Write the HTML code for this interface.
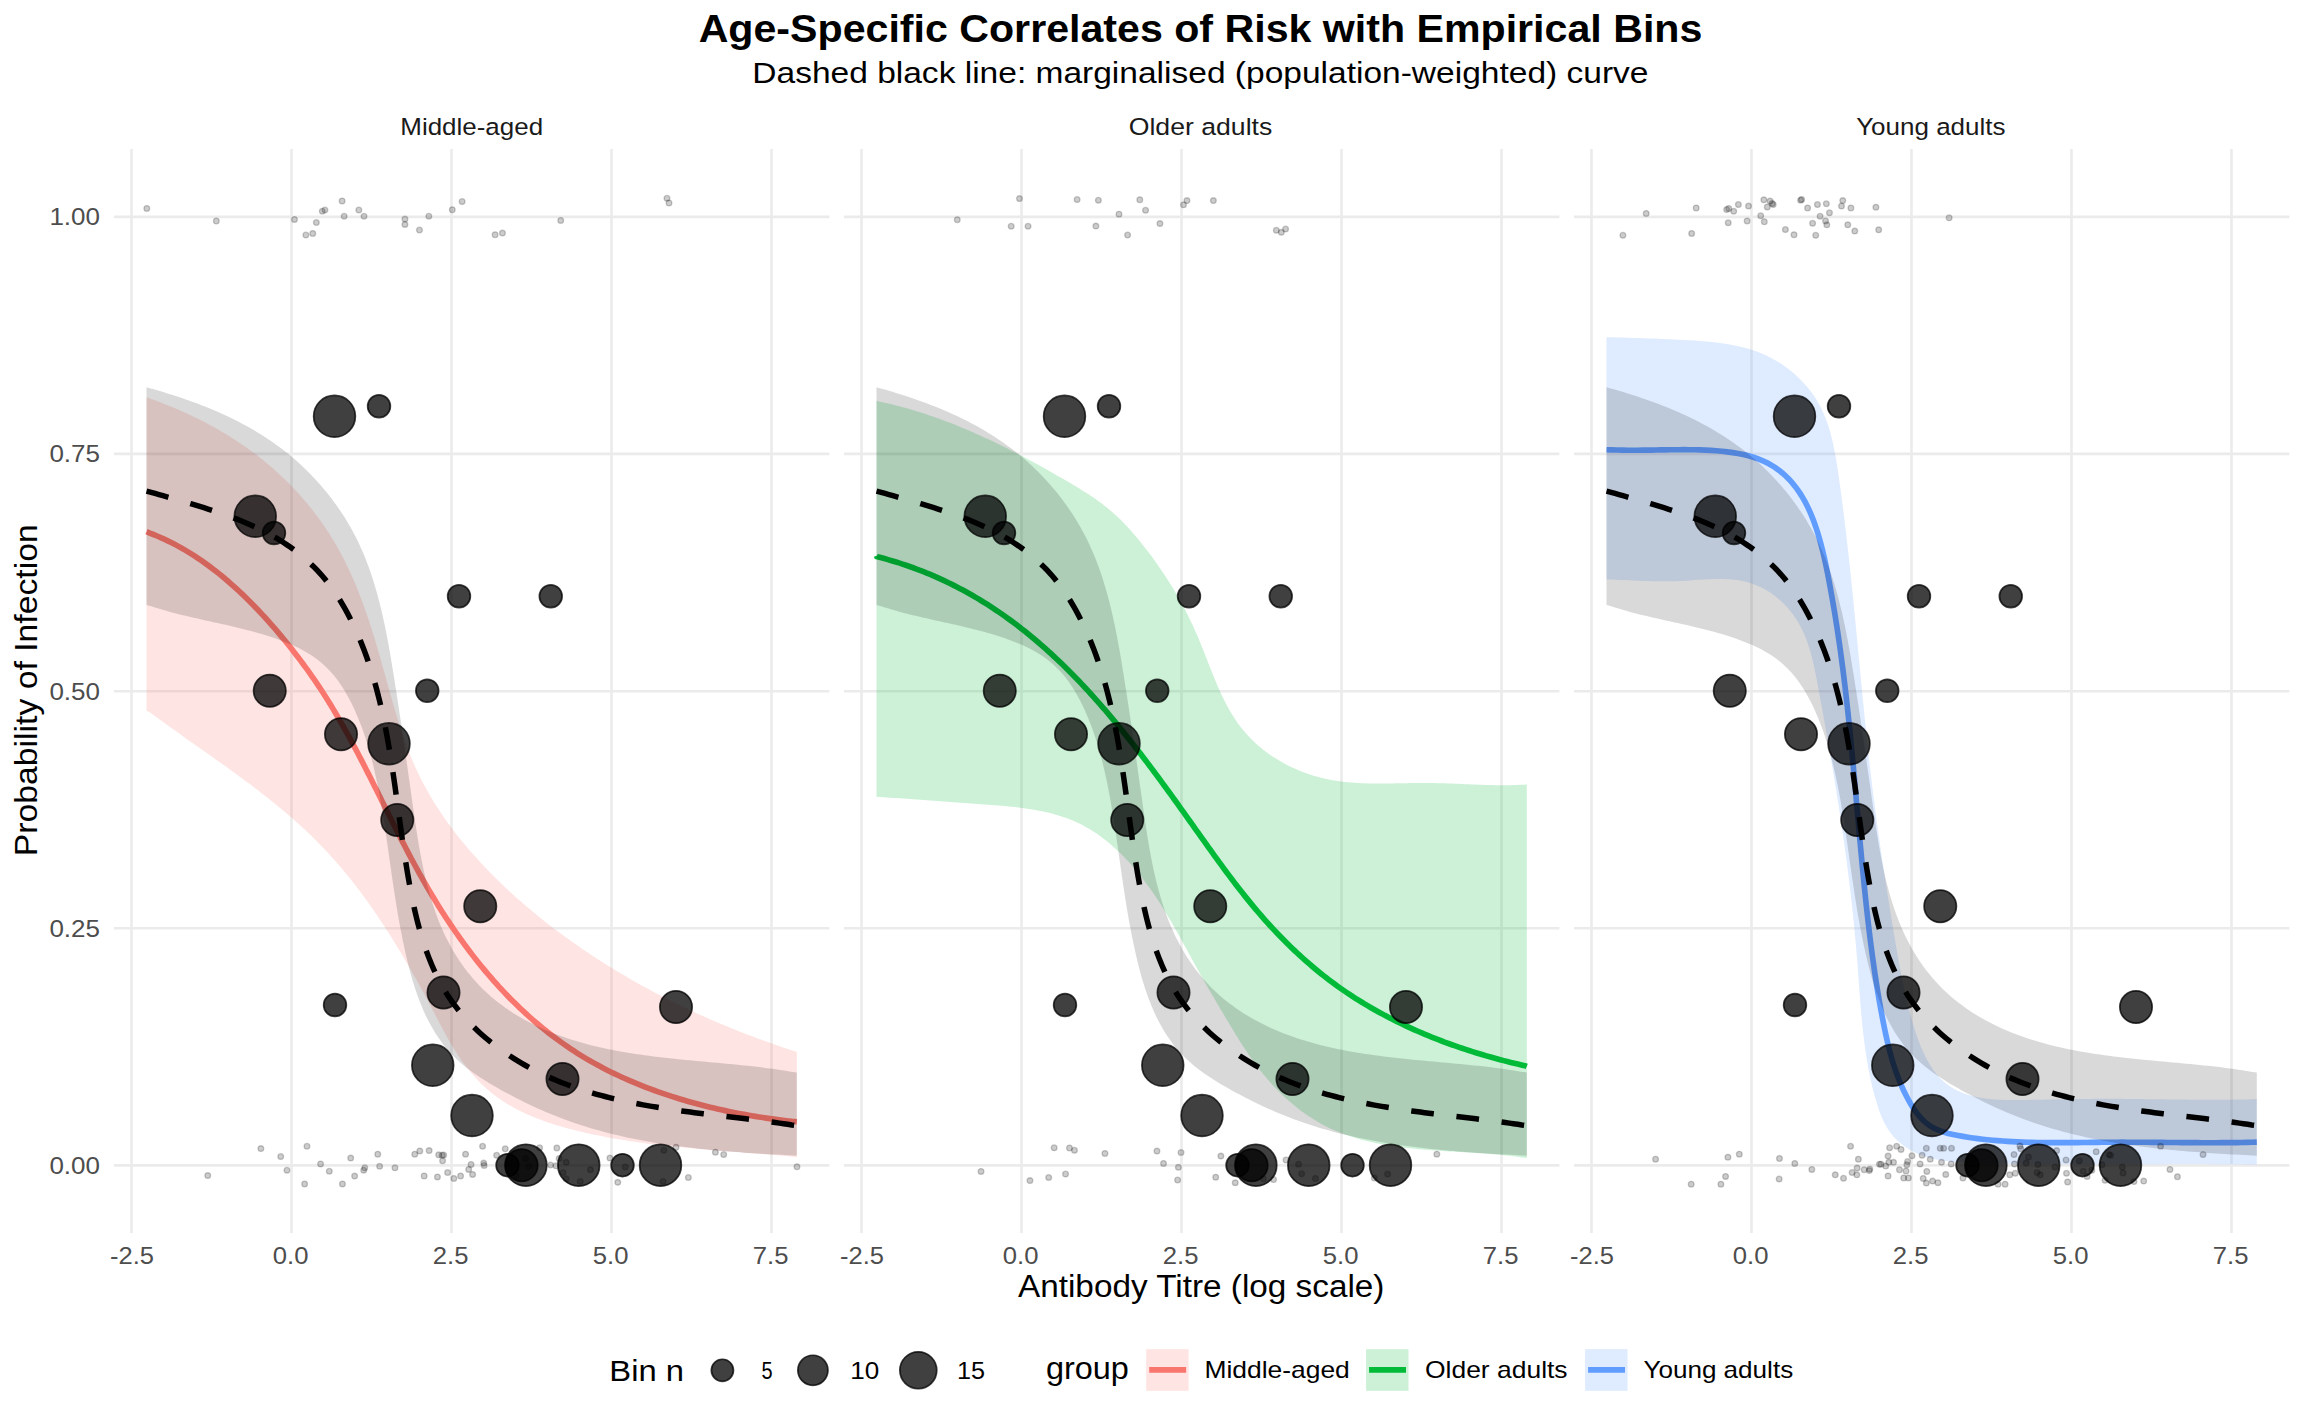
<!DOCTYPE html><html><head><meta charset="utf-8"><style>html,body{margin:0;padding:0;background:#fff;}svg{display:block;font-family:"Liberation Sans",sans-serif;}</style></head><body>
<svg width="2304" height="1423" viewBox="0 0 2304 1423">
<rect width="2304" height="1423" fill="#fff"/>
<text x="1200.5" y="41.5" font-size="38.6" fill="#000" text-anchor="middle" font-weight="bold" textLength="1003.7" lengthAdjust="spacingAndGlyphs">Age-Specific Correlates of Risk with Empirical Bins</text>
<text x="1200.4" y="82.6" font-size="30.2" fill="#000" text-anchor="middle" font-weight="normal" textLength="896.2" lengthAdjust="spacingAndGlyphs">Dashed black line: marginalised (population-weighted) curve</text>
<text x="471.7" y="134.8" font-size="24.5" fill="#1A1A1A" text-anchor="middle" font-weight="normal" textLength="142.8" lengthAdjust="spacingAndGlyphs">Middle-aged</text>
<path d="M131.5,149 V1233 M291.5,149 V1233 M451.5,149 V1233 M611.5,149 V1233 M771.5,149 V1233 M114,216.9 H829.4 M114,453.9 H829.4 M114,691.2 H829.4 M114,928.3 H829.4 M114,1165.4 H829.4" stroke="#EBEBEB" stroke-width="2.6" fill="none"/>
<path d="M146.5,397.14 L149.95,398.46 L153.74,399.83 L157.52,401.23 L161.3,402.66 L165.06,404.13 L168.82,405.64 L172.57,407.18 L176.31,408.76 L180.04,410.38 L183.76,412.03 L187.46,413.72 L191.15,415.45 L194.82,417.22 L198.48,419.02 L202.12,420.86 L205.74,422.74 L209.35,424.66 L212.93,426.61 L216.5,428.6 L220.04,430.64 L223.56,432.71 L227.05,434.81 L230.53,436.96 L233.97,439.15 L237.39,441.38 L240.78,443.64 L244.15,445.95 L247.48,448.29 L250.79,450.68 L254.06,453.1 L257.3,455.57 L260.51,458.07 L263.69,460.62 L266.83,463.2 L269.94,465.83 L273.01,468.49 L276.05,471.19 L279.05,473.93 L282.01,476.7 L284.94,479.51 L287.83,482.36 L290.68,485.25 L293.49,488.17 L296.27,491.12 L299,494.11 L301.69,497.14 L304.35,500.2 L306.96,503.29 L309.53,506.42 L312.05,509.57 L314.54,512.76 L316.98,515.99 L319.37,519.24 L321.72,522.52 L324.03,525.84 L326.29,529.18 L328.51,532.56 L330.68,535.96 L332.8,539.39 L334.87,542.85 L336.9,546.34 L338.87,549.86 L340.8,553.4 L342.69,556.97 L344.53,560.56 L346.33,564.18 L348.08,567.82 L349.8,571.48 L351.47,575.17 L353.11,578.87 L354.71,582.6 L356.27,586.34 L357.8,590.1 L359.3,593.88 L360.76,597.68 L362.2,601.49 L363.6,605.32 L364.98,609.16 L366.33,613.02 L367.65,616.89 L368.95,620.77 L370.22,624.66 L371.48,628.56 L372.71,632.47 L373.92,636.39 L375.12,640.31 L376.3,644.25 L377.46,648.19 L378.61,652.13 L379.74,656.08 L380.87,660.03 L381.98,663.98 L383.08,667.94 L384.18,671.9 L385.28,675.86 L386.37,679.81 L387.46,683.76 L388.56,687.72 L389.66,691.66 L390.77,695.6 L391.88,699.54 L393.01,703.47 L394.15,707.39 L395.3,711.3 L396.48,715.21 L397.67,719.1 L398.88,722.98 L400.12,726.85 L401.38,730.71 L402.67,734.55 L403.99,738.38 L405.34,742.19 L406.73,745.98 L408.15,749.75 L409.61,753.51 L411.12,757.25 L412.66,760.96 L414.25,764.66 L415.89,768.33 L417.57,771.97 L419.31,775.6 L421.09,779.19 L422.93,782.77 L424.82,786.32 L426.75,789.84 L428.73,793.34 L430.75,796.82 L432.82,800.27 L434.94,803.7 L437.1,807.1 L439.3,810.48 L441.54,813.84 L443.82,817.17 L446.14,820.48 L448.5,823.76 L450.89,827.02 L453.33,830.26 L455.79,833.48 L458.3,836.67 L460.83,839.83 L463.4,842.98 L466,846.1 L468.64,849.2 L471.3,852.27 L473.99,855.32 L476.71,858.35 L479.45,861.36 L482.23,864.34 L485.02,867.3 L487.85,870.24 L490.69,873.16 L493.56,876.05 L496.45,878.92 L499.37,881.77 L502.3,884.6 L505.26,887.41 L508.24,890.19 L511.23,892.95 L514.25,895.69 L517.29,898.41 L520.35,901.1 L523.43,903.78 L526.52,906.43 L529.64,909.07 L532.77,911.68 L535.92,914.27 L539.08,916.84 L542.27,919.39 L545.47,921.92 L548.68,924.42 L551.91,926.91 L555.16,929.38 L558.42,931.82 L561.69,934.25 L564.98,936.66 L568.28,939.04 L571.6,941.41 L574.93,943.75 L578.27,946.08 L581.62,948.39 L584.98,950.67 L588.36,952.94 L591.74,955.19 L595.14,957.42 L598.55,959.63 L601.97,961.82 L605.4,963.99 L608.84,966.14 L612.3,968.28 L615.76,970.39 L619.24,972.49 L622.72,974.56 L626.22,976.62 L629.73,978.66 L633.24,980.68 L636.77,982.68 L640.31,984.66 L643.86,986.63 L647.41,988.57 L650.98,990.5 L654.56,992.41 L658.15,994.3 L661.75,996.17 L665.35,998.03 L668.97,999.86 L672.6,1001.68 L676.23,1003.48 L679.88,1005.27 L683.53,1007.03 L687.2,1008.78 L690.87,1010.51 L694.55,1012.22 L698.24,1013.92 L701.94,1015.59 L705.65,1017.25 L709.37,1018.9 L713.1,1020.52 L716.83,1022.13 L720.58,1023.72 L724.33,1025.29 L728.09,1026.85 L731.86,1028.39 L735.63,1029.91 L739.42,1031.42 L743.21,1032.91 L747.01,1034.38 L750.82,1035.84 L754.63,1037.28 L758.46,1038.7 L762.29,1040.1 L766.13,1041.49 L769.97,1042.87 L773.83,1044.22 L777.69,1045.57 L781.55,1046.89 L785.43,1048.2 L789.31,1049.49 L793.2,1050.77 L796.8,1052.03 L796.8,1157.01 L793.08,1156.68 L789.59,1156.36 L786.11,1156.04 L782.62,1155.73 L779.13,1155.43 L775.64,1155.13 L772.15,1154.84 L768.67,1154.56 L765.18,1154.27 L761.69,1153.99 L758.2,1153.72 L754.71,1153.44 L751.23,1153.17 L747.74,1152.9 L744.25,1152.63 L740.76,1152.37 L737.28,1152.1 L733.79,1151.83 L730.3,1151.56 L726.81,1151.29 L723.33,1151.01 L719.84,1150.74 L716.35,1150.46 L712.86,1150.17 L709.38,1149.88 L705.89,1149.59 L702.4,1149.3 L698.91,1148.99 L695.43,1148.68 L691.94,1148.37 L688.45,1148.04 L684.96,1147.71 L681.47,1147.37 L677.98,1147.02 L674.5,1146.66 L671.01,1146.3 L667.52,1145.92 L664.03,1145.53 L660.54,1145.13 L657.05,1144.71 L653.56,1144.29 L650.07,1143.85 L646.58,1143.4 L643.1,1142.93 L639.61,1142.45 L636.12,1141.95 L632.63,1141.44 L629.14,1140.91 L625.65,1140.37 L622.15,1139.81 L618.66,1139.23 L615.17,1138.63 L611.68,1138.01 L608.19,1137.38 L604.7,1136.72 L601.21,1136.05 L597.72,1135.35 L594.22,1134.63 L590.73,1133.89 L587.24,1133.13 L583.75,1132.35 L580.26,1131.53 L576.78,1130.7 L573.3,1129.83 L569.84,1128.93 L566.38,1128.01 L562.94,1127.05 L559.51,1126.06 L556.09,1125.03 L552.7,1123.96 L549.32,1122.86 L545.97,1121.72 L542.63,1120.53 L539.33,1119.31 L536.05,1118.04 L532.8,1116.72 L529.58,1115.36 L526.39,1113.95 L523.23,1112.49 L520.12,1110.98 L517.04,1109.41 L514,1107.79 L511,1106.12 L508.04,1104.39 L505.13,1102.6 L502.26,1100.75 L499.45,1098.84 L496.68,1096.87 L493.97,1094.84 L491.31,1092.73 L488.7,1090.57 L486.15,1088.34 L483.65,1086.05 L481.2,1083.7 L478.81,1081.29 L476.46,1078.83 L474.17,1076.31 L471.92,1073.74 L469.72,1071.12 L467.57,1068.45 L465.47,1065.73 L463.41,1062.97 L461.4,1060.16 L459.43,1057.31 L457.51,1054.42 L455.63,1051.5 L453.78,1048.53 L451.97,1045.54 L450.19,1042.52 L448.44,1039.47 L446.71,1036.4 L445,1033.31 L443.32,1030.2 L441.64,1027.08 L439.98,1023.95 L438.33,1020.81 L436.68,1017.66 L435.03,1014.51 L433.38,1011.36 L431.73,1008.21 L430.07,1005.07 L428.41,1001.93 L426.74,998.8 L425.06,995.67 L423.38,992.55 L421.69,989.43 L419.99,986.32 L418.28,983.22 L416.56,980.12 L414.84,977.03 L413.11,973.94 L411.37,970.86 L409.61,967.79 L407.85,964.73 L406.08,961.68 L404.3,958.63 L402.51,955.59 L400.71,952.56 L398.9,949.54 L397.08,946.53 L395.24,943.53 L393.4,940.54 L391.54,937.55 L389.67,934.58 L387.78,931.62 L385.89,928.67 L383.98,925.72 L382.05,922.79 L380.12,919.88 L378.17,916.97 L376.2,914.07 L374.22,911.19 L372.23,908.32 L370.22,905.46 L368.2,902.61 L366.16,899.78 L364.1,896.96 L362.03,894.15 L359.94,891.36 L357.84,888.58 L355.72,885.81 L353.58,883.06 L351.42,880.32 L349.25,877.6 L347.05,874.9 L344.84,872.21 L342.61,869.53 L340.37,866.87 L338.1,864.23 L335.81,861.6 L333.5,858.99 L331.18,856.4 L328.83,853.82 L326.46,851.26 L324.08,848.72 L321.67,846.19 L319.24,843.69 L316.79,841.2 L314.31,838.73 L311.82,836.28 L309.3,833.85 L306.76,831.43 L304.21,829.03 L301.63,826.65 L299.03,824.29 L296.42,821.94 L293.79,819.61 L291.14,817.29 L288.48,814.99 L285.8,812.7 L283.1,810.43 L280.39,808.17 L277.67,805.92 L274.93,803.69 L272.18,801.47 L269.42,799.26 L266.65,797.06 L263.86,794.88 L261.07,792.71 L258.26,790.54 L255.45,788.39 L252.63,786.25 L249.8,784.12 L246.96,782 L244.11,779.88 L241.26,777.78 L238.41,775.68 L235.55,773.59 L232.68,771.51 L229.81,769.43 L226.94,767.37 L224.07,765.3 L221.19,763.25 L218.31,761.2 L215.44,759.15 L212.56,757.11 L209.68,755.08 L206.8,753.04 L203.93,751.01 L201.06,748.99 L198.19,746.97 L195.32,744.95 L192.46,742.93 L189.6,740.91 L186.75,738.9 L183.9,736.88 L181.06,734.87 L178.23,732.85 L175.4,730.84 L172.58,728.83 L169.78,726.81 L166.98,724.79 L164.19,722.78 L161.41,720.76 L158.65,718.73 L155.89,716.71 L153.15,714.68 L150.42,712.65 L146.5,710.61 Z" fill="#F8766D" fill-opacity="0.2"/>
<path d="M146.5,531.67 L149.8,533.06 L153.46,534.5 L157.08,536 L160.66,537.56 L164.21,539.17 L167.71,540.83 L171.18,542.55 L174.62,544.31 L178.02,546.13 L181.38,548 L184.71,549.92 L188,551.88 L191.26,553.89 L194.49,555.95 L197.69,558.05 L200.85,560.19 L203.99,562.37 L207.09,564.6 L210.17,566.87 L213.21,569.17 L216.23,571.51 L219.22,573.89 L222.19,576.31 L225.12,578.76 L228.03,581.24 L230.92,583.76 L233.78,586.31 L236.62,588.89 L239.43,591.5 L242.22,594.14 L244.99,596.8 L247.74,599.5 L250.46,602.21 L253.17,604.96 L255.85,607.72 L258.51,610.52 L261.16,613.33 L263.78,616.17 L266.38,619.02 L268.96,621.9 L271.52,624.8 L274.07,627.71 L276.59,630.65 L279.1,633.6 L281.58,636.57 L284.05,639.55 L286.5,642.55 L288.94,645.56 L291.35,648.59 L293.74,651.64 L296.12,654.7 L298.47,657.77 L300.8,660.86 L303.11,663.96 L305.4,667.08 L307.67,670.21 L309.91,673.36 L312.13,676.52 L314.33,679.69 L316.5,682.88 L318.65,686.09 L320.77,689.31 L322.87,692.54 L324.95,695.78 L327,699.04 L329.03,702.31 L331.04,705.59 L333.04,708.88 L335.01,712.19 L336.96,715.5 L338.9,718.83 L340.82,722.16 L342.72,725.51 L344.61,728.86 L346.48,732.22 L348.34,735.59 L350.18,738.97 L352.01,742.36 L353.83,745.75 L355.64,749.15 L357.43,752.56 L359.22,755.97 L361,759.39 L362.76,762.82 L364.52,766.24 L366.28,769.68 L368.02,773.12 L369.77,776.56 L371.5,780 L373.23,783.45 L374.96,786.9 L376.69,790.35 L378.41,793.8 L380.13,797.26 L381.85,800.71 L383.57,804.17 L385.29,807.62 L387.01,811.08 L388.74,814.54 L390.47,817.99 L392.2,821.44 L393.93,824.89 L395.67,828.34 L397.42,831.79 L399.17,835.23 L400.93,838.67 L402.69,842.11 L404.47,845.54 L406.25,848.97 L408.04,852.39 L409.85,855.81 L411.66,859.22 L413.49,862.63 L415.33,866.02 L417.19,869.42 L419.05,872.8 L420.94,876.18 L422.83,879.55 L424.75,882.91 L426.68,886.26 L428.63,889.6 L430.6,892.93 L432.58,896.25 L434.58,899.57 L436.61,902.87 L438.65,906.16 L440.7,909.43 L442.78,912.7 L444.88,915.95 L446.99,919.19 L449.13,922.42 L451.28,925.63 L453.46,928.83 L455.65,932.01 L457.86,935.18 L460.1,938.33 L462.35,941.47 L464.62,944.59 L466.92,947.69 L469.23,950.77 L471.57,953.84 L473.92,956.89 L476.3,959.92 L478.7,962.93 L481.12,965.93 L483.56,968.9 L486.02,971.85 L488.51,974.78 L491.01,977.69 L493.54,980.58 L496.09,983.45 L498.67,986.29 L501.26,989.11 L503.88,991.91 L506.52,994.68 L509.18,997.43 L511.87,1000.16 L514.58,1002.86 L517.31,1005.53 L520.07,1008.18 L522.85,1010.8 L525.66,1013.4 L528.49,1015.97 L531.34,1018.51 L534.21,1021.02 L537.12,1023.51 L540.04,1025.97 L542.99,1028.39 L545.97,1030.79 L548.97,1033.16 L551.99,1035.49 L555.04,1037.8 L558.12,1040.07 L561.22,1042.32 L564.35,1044.53 L567.5,1046.7 L570.68,1048.85 L573.89,1050.96 L577.12,1053.04 L580.38,1055.08 L583.66,1057.09 L586.97,1059.06 L590.31,1061 L593.67,1062.9 L597.05,1064.78 L600.46,1066.61 L603.89,1068.42 L607.34,1070.19 L610.82,1071.92 L614.31,1073.63 L617.82,1075.3 L621.36,1076.94 L624.91,1078.54 L628.48,1080.12 L632.06,1081.66 L635.66,1083.17 L639.28,1084.66 L642.91,1086.11 L646.56,1087.52 L650.21,1088.91 L653.89,1090.27 L657.57,1091.6 L661.26,1092.9 L664.97,1094.17 L668.68,1095.41 L672.41,1096.62 L676.14,1097.8 L679.88,1098.95 L683.62,1100.07 L687.38,1101.17 L691.13,1102.24 L694.9,1103.28 L698.66,1104.29 L702.43,1105.28 L706.21,1106.24 L709.98,1107.17 L713.76,1108.07 L717.53,1108.95 L721.31,1109.8 L725.08,1110.63 L728.86,1111.43 L732.63,1112.21 L736.39,1112.96 L740.16,1113.69 L743.92,1114.39 L747.67,1115.06 L751.42,1115.72 L755.16,1116.34 L758.9,1116.95 L762.62,1117.53 L766.34,1118.09 L770.05,1118.62 L773.74,1119.13 L777.43,1119.62 L781.11,1120.09 L784.77,1120.53 L788.42,1120.96 L792.06,1121.36 L796.8,1121.74" fill="none" stroke="#F8766D" stroke-width="5.65"/>
<path d="M146.5,387.23 L150.59,388.4 L154.81,389.6 L159.04,390.84 L163.28,392.11 L167.53,393.41 L171.78,394.75 L176.03,396.12 L180.28,397.54 L184.53,398.99 L188.78,400.48 L193.01,402.01 L197.24,403.59 L201.47,405.21 L205.67,406.87 L209.87,408.57 L214.05,410.32 L218.21,412.12 L222.35,413.97 L226.47,415.86 L230.57,417.81 L234.64,419.81 L238.68,421.85 L242.69,423.95 L246.67,426.11 L250.62,428.32 L254.53,430.58 L258.41,432.9 L262.24,435.28 L266.03,437.72 L269.78,440.21 L273.49,442.77 L277.14,445.39 L280.75,448.07 L284.31,450.8 L287.83,453.6 L291.29,456.45 L294.7,459.36 L298.06,462.32 L301.37,465.34 L304.62,468.41 L307.82,471.53 L310.96,474.71 L314.05,477.93 L317.08,481.21 L320.05,484.54 L322.97,487.92 L325.82,491.34 L328.62,494.81 L331.35,498.33 L334.02,501.89 L336.63,505.5 L339.18,509.15 L341.66,512.85 L344.07,516.58 L346.42,520.36 L348.7,524.18 L350.91,528.04 L353.06,531.93 L355.13,535.87 L357.14,539.84 L359.07,543.85 L360.93,547.89 L362.72,551.97 L364.45,556.08 L366.11,560.22 L367.71,564.39 L369.25,568.59 L370.73,572.81 L372.15,577.06 L373.52,581.34 L374.84,585.63 L376.1,589.95 L377.32,594.29 L378.5,598.64 L379.63,603.02 L380.72,607.41 L381.77,611.81 L382.78,616.22 L383.76,620.65 L384.7,625.08 L385.61,629.53 L386.5,633.98 L387.36,638.43 L388.19,642.89 L389,647.36 L389.79,651.82 L390.56,656.29 L391.32,660.75 L392.06,665.21 L392.79,669.66 L393.51,674.11 L394.22,678.55 L394.93,682.99 L395.63,687.42 L396.32,691.84 L397,696.26 L397.68,700.68 L398.36,705.09 L399.02,709.5 L399.69,713.91 L400.34,718.31 L401,722.72 L401.65,727.12 L402.29,731.52 L402.93,735.93 L403.57,740.33 L404.21,744.74 L404.85,749.15 L405.48,753.56 L406.11,757.97 L406.74,762.39 L407.37,766.82 L408,771.25 L408.62,775.68 L409.25,780.12 L409.88,784.57 L410.51,789.03 L411.14,793.49 L411.77,797.96 L412.41,802.44 L413.05,806.94 L413.69,811.44 L414.34,815.94 L415,820.45 L415.67,824.97 L416.35,829.48 L417.06,834 L417.78,838.51 L418.53,843.02 L419.31,847.53 L420.11,852.03 L420.95,856.52 L421.82,860.99 L422.72,865.46 L423.67,869.92 L424.65,874.35 L425.68,878.77 L426.76,883.18 L427.89,887.56 L429.07,891.92 L430.31,896.25 L431.6,900.56 L432.95,904.84 L434.37,909.1 L435.85,913.32 L437.4,917.51 L439.02,921.67 L440.72,925.79 L442.49,929.87 L444.34,933.91 L446.27,937.91 L448.29,941.87 L450.39,945.79 L452.57,949.65 L454.83,953.47 L457.17,957.22 L459.6,960.93 L462.11,964.57 L464.7,968.15 L467.38,971.66 L470.13,975.11 L472.97,978.49 L475.9,981.79 L478.9,985.02 L481.98,988.17 L485.15,991.24 L488.4,994.22 L491.72,997.13 L495.11,999.96 L498.58,1002.7 L502.11,1005.37 L505.7,1007.96 L509.36,1010.46 L513.07,1012.89 L516.83,1015.24 L520.64,1017.52 L524.51,1019.71 L528.41,1021.83 L532.36,1023.87 L536.34,1025.83 L540.37,1027.72 L544.42,1029.53 L548.51,1031.27 L552.63,1032.94 L556.79,1034.55 L560.97,1036.08 L565.18,1037.55 L569.42,1038.96 L573.69,1040.31 L577.98,1041.6 L582.29,1042.84 L586.63,1044.01 L590.99,1045.14 L595.37,1046.21 L599.77,1047.24 L604.19,1048.22 L608.62,1049.15 L613.08,1050.04 L617.54,1050.88 L622.02,1051.69 L626.52,1052.46 L631.02,1053.19 L635.53,1053.89 L640.06,1054.56 L644.59,1055.19 L649.13,1055.8 L653.67,1056.38 L658.22,1056.94 L662.77,1057.48 L667.32,1057.99 L671.88,1058.48 L676.43,1058.96 L680.98,1059.43 L685.53,1059.88 L690.08,1060.31 L694.62,1060.74 L699.15,1061.16 L703.68,1061.58 L708.2,1061.99 L712.71,1062.4 L717.21,1062.81 L721.69,1063.23 L726.17,1063.64 L730.63,1064.06 L735.07,1064.49 L739.5,1064.93 L743.91,1065.38 L748.3,1065.85 L752.67,1066.33 L757.02,1066.83 L761.35,1067.34 L765.65,1067.88 L769.93,1068.44 L774.18,1069.02 L778.41,1069.63 L782.61,1070.27 L786.78,1070.94 L790.91,1071.65 L796.8,1072.38 L796.8,1155.66 L792.76,1155.46 L788.71,1155.26 L784.65,1155.05 L780.58,1154.84 L776.52,1154.62 L772.45,1154.4 L768.38,1154.17 L764.31,1153.94 L760.24,1153.7 L756.17,1153.45 L752.09,1153.19 L748.02,1152.92 L743.95,1152.64 L739.87,1152.35 L735.8,1152.05 L731.72,1151.74 L727.65,1151.42 L723.58,1151.08 L719.51,1150.73 L715.44,1150.36 L711.38,1149.98 L707.31,1149.59 L703.25,1149.17 L699.19,1148.75 L695.13,1148.3 L691.08,1147.83 L687.03,1147.35 L682.99,1146.84 L678.94,1146.32 L674.91,1145.78 L670.87,1145.21 L666.84,1144.62 L662.82,1144.01 L658.8,1143.38 L654.79,1142.72 L650.78,1142.03 L646.78,1141.32 L642.78,1140.59 L638.8,1139.83 L634.81,1139.04 L630.84,1138.22 L626.87,1137.38 L622.91,1136.51 L618.96,1135.6 L615.02,1134.67 L611.08,1133.7 L607.16,1132.71 L603.24,1131.68 L599.33,1130.62 L595.43,1129.52 L591.54,1128.39 L587.66,1127.23 L583.79,1126.03 L579.94,1124.79 L576.09,1123.52 L572.25,1122.2 L568.42,1120.86 L564.61,1119.47 L560.81,1118.04 L557.02,1116.57 L553.24,1115.07 L549.47,1113.52 L545.72,1111.94 L541.97,1110.31 L538.24,1108.65 L534.51,1106.96 L530.8,1105.22 L527.09,1103.45 L523.4,1101.65 L519.71,1099.81 L516.03,1097.94 L512.36,1096.03 L508.69,1094.1 L505.03,1092.13 L501.38,1090.13 L497.74,1088.09 L494.12,1086.02 L490.53,1083.91 L486.96,1081.76 L483.43,1079.56 L479.94,1077.31 L476.51,1075.01 L473.13,1072.65 L469.82,1070.22 L466.58,1067.74 L463.41,1065.19 L460.33,1062.57 L457.33,1059.87 L454.44,1057.1 L451.64,1054.24 L448.95,1051.31 L446.36,1048.3 L443.86,1045.22 L441.46,1042.07 L439.15,1038.85 L436.93,1035.57 L434.8,1032.22 L432.75,1028.81 L430.78,1025.35 L428.89,1021.84 L427.07,1018.27 L425.33,1014.66 L423.66,1011 L422.06,1007.3 L420.53,1003.55 L419.06,999.78 L417.64,995.96 L416.29,992.12 L414.99,988.25 L413.75,984.35 L412.55,980.43 L411.41,976.49 L410.31,972.54 L409.25,968.57 L408.23,964.58 L407.25,960.59 L406.3,956.6 L405.38,952.6 L404.5,948.59 L403.64,944.6 L402.81,940.6 L402,936.6 L401.22,932.61 L400.45,928.62 L399.71,924.63 L398.99,920.63 L398.29,916.64 L397.6,912.65 L396.93,908.66 L396.28,904.67 L395.64,900.67 L395.01,896.68 L394.39,892.68 L393.78,888.69 L393.18,884.69 L392.59,880.68 L392,876.68 L391.42,872.67 L390.84,868.66 L390.27,864.65 L389.7,860.63 L389.12,856.61 L388.55,852.58 L387.97,848.55 L387.39,844.51 L386.8,840.47 L386.21,836.43 L385.61,832.37 L385,828.32 L384.38,824.25 L383.75,820.18 L383.11,816.11 L382.45,812.04 L381.77,807.97 L381.08,803.89 L380.36,799.82 L379.63,795.75 L378.86,791.69 L378.08,787.63 L377.27,783.58 L376.42,779.53 L375.55,775.5 L374.65,771.47 L373.71,767.46 L372.74,763.46 L371.73,759.47 L370.68,755.5 L369.59,751.55 L368.45,747.61 L367.28,743.69 L366.06,739.8 L364.79,735.92 L363.47,732.07 L362.1,728.24 L360.68,724.43 L359.2,720.66 L357.67,716.91 L356.08,713.19 L354.43,709.49 L352.72,705.84 L350.95,702.22 L349.1,698.65 L347.18,695.14 L345.18,691.68 L343.1,688.29 L340.94,684.97 L338.69,681.73 L336.34,678.57 L333.9,675.51 L331.35,672.53 L328.71,669.66 L325.95,666.9 L323.08,664.26 L320.1,661.73 L317.01,659.32 L313.81,657.02 L310.52,654.83 L307.13,652.75 L303.66,650.76 L300.11,648.87 L296.49,647.07 L292.81,645.35 L289.06,643.71 L285.27,642.15 L281.43,640.66 L277.55,639.24 L273.65,637.87 L269.71,636.56 L265.76,635.31 L261.79,634.1 L257.81,632.94 L253.82,631.82 L249.81,630.74 L245.79,629.69 L241.77,628.67 L237.74,627.69 L233.71,626.72 L229.67,625.78 L225.63,624.86 L221.6,623.95 L217.56,623.05 L213.54,622.16 L209.51,621.27 L205.5,620.39 L201.5,619.5 L197.5,618.61 L193.52,617.7 L189.56,616.79 L185.61,615.86 L181.68,614.91 L177.77,613.93 L173.89,612.94 L170.02,611.91 L166.19,610.85 L162.38,609.75 L158.59,608.61 L154.84,607.43 L151.12,606.21 L146.5,604.93 Z" fill="#000000" fill-opacity="0.15"/>
<g fill="#000" fill-opacity="0.2" stroke="#000" stroke-opacity="0.2" stroke-width="1.3"><circle cx="146.81" cy="208.44" r="2.85"/><circle cx="216.34" cy="220.94" r="2.85"/><circle cx="294.47" cy="219.38" r="2.85"/><circle cx="305.88" cy="235" r="2.85"/><circle cx="312.75" cy="233.44" r="2.85"/><circle cx="316.34" cy="222.5" r="2.85"/><circle cx="322.28" cy="211.25" r="2.85"/><circle cx="324.94" cy="210" r="2.85"/><circle cx="342.12" cy="200.94" r="2.85"/><circle cx="344.16" cy="216.25" r="2.85"/><circle cx="358.84" cy="210" r="2.85"/><circle cx="364" cy="216.25" r="2.85"/><circle cx="404.94" cy="219.06" r="2.85"/><circle cx="404.94" cy="224.38" r="2.85"/><circle cx="419.47" cy="230" r="2.85"/><circle cx="428.84" cy="216.25" r="2.85"/><circle cx="452.28" cy="209.69" r="2.85"/><circle cx="462.12" cy="201.56" r="2.85"/><circle cx="495.09" cy="234.69" r="2.85"/><circle cx="502.44" cy="233.12" r="2.85"/><circle cx="560.72" cy="220.47" r="2.85"/><circle cx="666.97" cy="198.28" r="2.85"/><circle cx="669" cy="202.97" r="2.85"/><circle cx="207.75" cy="1175.62" r="2.85"/><circle cx="260.88" cy="1148.59" r="2.85"/><circle cx="280.72" cy="1156.56" r="2.85"/><circle cx="286.97" cy="1170.31" r="2.85"/><circle cx="304.62" cy="1183.91" r="2.85"/><circle cx="306.97" cy="1146.25" r="2.85"/><circle cx="320.56" cy="1163.91" r="2.85"/><circle cx="329.31" cy="1171.25" r="2.85"/><circle cx="342.44" cy="1183.91" r="2.85"/><circle cx="350.72" cy="1158.12" r="2.85"/><circle cx="354.62" cy="1176.09" r="2.85"/><circle cx="363.69" cy="1170.16" r="2.85"/><circle cx="364.78" cy="1167.81" r="2.85"/><circle cx="377.75" cy="1154.22" r="2.85"/><circle cx="379.62" cy="1166.25" r="2.85"/><circle cx="394.94" cy="1167.81" r="2.85"/><circle cx="414.78" cy="1154.22" r="2.85"/><circle cx="419.78" cy="1150.94" r="2.85"/><circle cx="424.16" cy="1175.94" r="2.85"/><circle cx="429.16" cy="1150.62" r="2.85"/><circle cx="437.44" cy="1176.88" r="2.85"/><circle cx="438.69" cy="1154.84" r="2.85"/><circle cx="442.12" cy="1155.31" r="2.85"/><circle cx="443.69" cy="1155" r="2.85"/><circle cx="442.59" cy="1160.78" r="2.85"/><circle cx="447.59" cy="1172.5" r="2.85"/><circle cx="453.84" cy="1178.44" r="2.85"/><circle cx="460.56" cy="1175.94" r="2.85"/><circle cx="465.56" cy="1154.22" r="2.85"/><circle cx="468.69" cy="1169.38" r="2.85"/><circle cx="471.03" cy="1164.38" r="2.85"/><circle cx="472.59" cy="1174.38" r="2.85"/><circle cx="482.59" cy="1146.25" r="2.85"/><circle cx="483.69" cy="1163.12" r="2.85"/><circle cx="484.16" cy="1165.47" r="2.85"/><circle cx="496.66" cy="1155.31" r="2.85"/><circle cx="505.25" cy="1148.75" r="2.85"/><circle cx="539.62" cy="1147.81" r="2.85"/><circle cx="550.56" cy="1165" r="2.85"/><circle cx="556.81" cy="1147.97" r="2.85"/><circle cx="556.03" cy="1165.78" r="2.85"/><circle cx="559.16" cy="1158.44" r="2.85"/><circle cx="563.06" cy="1172.5" r="2.85"/><circle cx="566.19" cy="1162.34" r="2.85"/><circle cx="566.19" cy="1178.75" r="2.85"/><circle cx="580.25" cy="1181.56" r="2.85"/><circle cx="590.41" cy="1169.69" r="2.85"/><circle cx="609.94" cy="1158.12" r="2.85"/><circle cx="617.75" cy="1182.34" r="2.85"/><circle cx="625.25" cy="1167.03" r="2.85"/><circle cx="663.84" cy="1150.31" r="2.85"/><circle cx="663.06" cy="1181.56" r="2.85"/><circle cx="676.03" cy="1147.19" r="2.85"/><circle cx="688.38" cy="1177.5" r="2.85"/><circle cx="715.41" cy="1152.19" r="2.85"/><circle cx="723.69" cy="1154.53" r="2.85"/><circle cx="796.97" cy="1166.72" r="2.85"/><circle cx="525.56" cy="1158.44" r="2.85"/><circle cx="528.69" cy="1166.25" r="2.85"/><circle cx="516.19" cy="1175.62" r="2.85"/></g>
<g fill="#000" fill-opacity="0.75" stroke="#000" stroke-opacity="0.75" stroke-width="1.7"><circle cx="334.5" cy="416.25" r="20.85"/><circle cx="379" cy="406.25" r="11.35"/><circle cx="255.25" cy="516.25" r="20.85"/><circle cx="274" cy="533" r="11.35"/><circle cx="459" cy="596.25" r="11.35"/><circle cx="550.75" cy="596.25" r="11.35"/><circle cx="269.75" cy="690.75" r="16.15"/><circle cx="341" cy="734.25" r="16.15"/><circle cx="389" cy="743.75" r="20.85"/><circle cx="397.25" cy="820" r="16.15"/><circle cx="427.25" cy="690.75" r="11.35"/><circle cx="480.25" cy="906.25" r="16.15"/><circle cx="443.5" cy="992.5" r="16.15"/><circle cx="335" cy="1005" r="11.35"/><circle cx="676" cy="1007" r="16.15"/><circle cx="432.75" cy="1065.25" r="20.85"/><circle cx="472" cy="1115.5" r="20.85"/><circle cx="562.5" cy="1079" r="16.15"/><circle cx="507.5" cy="1165.2" r="11.35"/><circle cx="521.6" cy="1165.2" r="16.15"/><circle cx="525.9" cy="1165.2" r="20.85"/><circle cx="578.75" cy="1165.2" r="20.85"/><circle cx="622.5" cy="1165.2" r="11.35"/><circle cx="660.5" cy="1165.2" r="20.85"/></g>
<path d="M146.5,491.17 L151.14,492.31 L155.04,493.45 L158.97,494.58 L162.94,495.72 L166.94,496.86 L170.98,498.01 L175.03,499.16 L179.11,500.33 L183.21,501.51 L187.32,502.7 L191.45,503.92 L195.59,505.15 L199.73,506.41 L203.88,507.69 L208.04,509.01 L212.19,510.35 L216.34,511.73 L220.48,513.14 L224.61,514.59 L228.73,516.08 L232.83,517.61 L236.92,519.19 L240.98,520.81 L245.02,522.49 L249.03,524.21 L253.01,526 L256.96,527.84 L260.87,529.74 L264.75,531.7 L268.58,533.73 L272.36,535.82 L276.1,537.98 L279.79,540.22 L283.43,542.52 L287.01,544.89 L290.54,547.33 L294.01,549.85 L297.41,552.43 L300.75,555.09 L304.03,557.82 L307.23,560.62 L310.36,563.49 L313.42,566.44 L316.41,569.47 L319.31,572.57 L322.14,575.74 L324.88,578.99 L327.54,582.31 L330.12,585.69 L332.63,589.14 L335.06,592.64 L337.42,596.2 L339.71,599.81 L341.93,603.47 L344.09,607.16 L346.18,610.9 L348.2,614.66 L350.17,618.46 L352.07,622.28 L353.92,626.12 L355.71,629.98 L357.45,633.86 L359.14,637.76 L360.77,641.67 L362.35,645.6 L363.89,649.55 L365.37,653.51 L366.81,657.49 L368.2,661.48 L369.55,665.49 L370.85,669.52 L372.12,673.55 L373.34,677.61 L374.52,681.67 L375.67,685.75 L376.78,689.84 L377.85,693.94 L378.89,698.06 L379.9,702.19 L380.87,706.33 L381.81,710.48 L382.73,714.64 L383.62,718.81 L384.47,723 L385.31,727.19 L386.12,731.39 L386.91,735.6 L387.67,739.82 L388.42,744.05 L389.14,748.29 L389.85,752.53 L390.54,756.79 L391.22,761.05 L391.88,765.31 L392.53,769.58 L393.17,773.86 L393.8,778.15 L394.42,782.44 L395.03,786.73 L395.63,791.03 L396.23,795.34 L396.83,799.65 L397.42,803.96 L398.01,808.27 L398.6,812.59 L399.19,816.92 L399.79,821.24 L400.38,825.57 L400.99,829.89 L401.59,834.22 L402.21,838.55 L402.83,842.88 L403.47,847.21 L404.11,851.55 L404.77,855.88 L405.44,860.21 L406.13,864.54 L406.83,868.86 L407.55,873.19 L408.29,877.51 L409.05,881.84 L409.83,886.15 L410.63,890.46 L411.47,894.76 L412.33,899.05 L413.22,903.33 L414.15,907.6 L415.11,911.85 L416.11,916.09 L417.15,920.3 L418.23,924.5 L419.35,928.68 L420.53,932.83 L421.75,936.95 L423.02,941.05 L424.34,945.12 L425.72,949.16 L427.16,953.17 L428.65,957.14 L430.21,961.08 L431.83,964.98 L433.51,968.84 L435.27,972.67 L437.09,976.45 L438.98,980.18 L440.95,983.87 L443,987.51 L445.13,991.11 L447.33,994.65 L449.62,998.14 L452,1001.57 L454.45,1004.95 L456.99,1008.28 L459.61,1011.55 L462.3,1014.77 L465.06,1017.93 L467.9,1021.04 L470.81,1024.09 L473.79,1027.08 L476.83,1030.02 L479.94,1032.91 L483.11,1035.74 L486.34,1038.51 L489.62,1041.22 L492.96,1043.88 L496.36,1046.49 L499.8,1049.03 L503.29,1051.52 L506.84,1053.95 L510.42,1056.33 L514.05,1058.64 L517.72,1060.9 L521.42,1063.11 L525.16,1065.25 L528.94,1067.34 L532.75,1069.36 L536.59,1071.33 L540.45,1073.24 L544.35,1075.1 L548.26,1076.89 L552.2,1078.62 L556.16,1080.3 L560.14,1081.93 L564.14,1083.5 L568.16,1085.01 L572.2,1086.48 L576.25,1087.9 L580.33,1089.26 L584.42,1090.59 L588.53,1091.86 L592.65,1093.09 L596.79,1094.28 L600.95,1095.42 L605.11,1096.52 L609.29,1097.59 L613.49,1098.61 L617.69,1099.6 L621.9,1100.56 L626.13,1101.48 L630.36,1102.37 L634.61,1103.22 L638.86,1104.05 L643.12,1104.85 L647.39,1105.62 L651.66,1106.36 L655.94,1107.08 L660.22,1107.78 L664.51,1108.45 L668.8,1109.1 L673.09,1109.74 L677.39,1110.35 L681.68,1110.95 L685.98,1111.53 L690.28,1112.1 L694.58,1112.66 L698.87,1113.2 L703.17,1113.74 L707.46,1114.26 L711.75,1114.78 L716.03,1115.29 L720.31,1115.8 L724.59,1116.3 L728.86,1116.8 L733.12,1117.3 L737.38,1117.8 L741.62,1118.31 L745.86,1118.81 L750.09,1119.32 L754.31,1119.84 L758.52,1120.36 L762.72,1120.89 L766.9,1121.43 L771.08,1121.98 L775.24,1122.55 L779.38,1123.13 L783.51,1123.72 L787.63,1124.33 L791.73,1124.95 L796.8,1125.6" fill="none" stroke="#000" stroke-width="5.5" stroke-dasharray="22.75 22.75"/>
<text x="132" y="1263.8" font-size="24" fill="#4D4D4D" text-anchor="middle" font-weight="normal" textLength="44" lengthAdjust="spacingAndGlyphs">-2.5</text>
<text x="290.7" y="1263.8" font-size="24" fill="#4D4D4D" text-anchor="middle" font-weight="normal" textLength="35.7" lengthAdjust="spacingAndGlyphs">0.0</text>
<text x="450.7" y="1263.8" font-size="24" fill="#4D4D4D" text-anchor="middle" font-weight="normal" textLength="35.7" lengthAdjust="spacingAndGlyphs">2.5</text>
<text x="610.7" y="1263.8" font-size="24" fill="#4D4D4D" text-anchor="middle" font-weight="normal" textLength="35.7" lengthAdjust="spacingAndGlyphs">5.0</text>
<text x="770.7" y="1263.8" font-size="24" fill="#4D4D4D" text-anchor="middle" font-weight="normal" textLength="35.7" lengthAdjust="spacingAndGlyphs">7.5</text>
<text x="1200.5" y="134.8" font-size="24.5" fill="#1A1A1A" text-anchor="middle" font-weight="normal" textLength="143.6" lengthAdjust="spacingAndGlyphs">Older adults</text>
<path d="M861.5,149 V1233 M1021.5,149 V1233 M1181.5,149 V1233 M1341.5,149 V1233 M1501.5,149 V1233 M844,216.9 H1559.4 M844,453.9 H1559.4 M844,691.2 H1559.4 M844,928.3 H1559.4 M844,1165.4 H1559.4" stroke="#EBEBEB" stroke-width="2.6" fill="none"/>
<path d="M876.5,400.78 L879.07,401.48 L882.47,402.21 L885.86,402.97 L889.24,403.76 L892.61,404.57 L895.96,405.41 L899.31,406.28 L902.64,407.17 L905.97,408.08 L909.28,409.02 L912.58,409.99 L915.87,410.98 L919.15,411.99 L922.42,413.03 L925.69,414.09 L928.94,415.18 L932.18,416.28 L935.41,417.41 L938.63,418.56 L941.85,419.73 L945.05,420.93 L948.25,422.14 L951.44,423.37 L954.62,424.62 L957.79,425.9 L960.95,427.19 L964.1,428.5 L967.25,429.83 L970.39,431.17 L973.52,432.54 L976.64,433.92 L979.76,435.32 L982.86,436.73 L985.97,438.17 L989.06,439.61 L992.15,441.08 L995.23,442.55 L998.3,444.04 L1001.37,445.55 L1004.44,447.07 L1007.49,448.61 L1010.54,450.15 L1013.59,451.71 L1016.63,453.29 L1019.66,454.87 L1022.69,456.47 L1025.71,458.07 L1028.73,459.69 L1031.75,461.32 L1034.76,462.96 L1037.76,464.61 L1040.76,466.27 L1043.76,467.94 L1046.75,469.61 L1049.74,471.3 L1052.72,472.99 L1055.71,474.69 L1058.68,476.4 L1061.66,478.11 L1064.63,479.84 L1067.6,481.56 L1070.56,483.3 L1073.52,485.05 L1076.46,486.81 L1079.4,488.59 L1082.31,490.39 L1085.21,492.22 L1088.09,494.07 L1090.95,495.95 L1093.78,497.86 L1096.58,499.81 L1099.35,501.8 L1102.09,503.82 L1104.79,505.9 L1107.45,508.02 L1110.08,510.18 L1112.66,512.41 L1115.19,514.68 L1117.69,517 L1120.14,519.37 L1122.56,521.78 L1124.94,524.23 L1127.28,526.72 L1129.59,529.25 L1131.87,531.81 L1134.12,534.39 L1136.33,537.01 L1138.52,539.64 L1140.68,542.3 L1142.82,544.98 L1144.93,547.67 L1147.02,550.37 L1149.09,553.09 L1151.14,555.82 L1153.16,558.57 L1155.16,561.33 L1157.13,564.1 L1159.09,566.89 L1161.01,569.7 L1162.92,572.51 L1164.8,575.35 L1166.66,578.2 L1168.49,581.06 L1170.31,583.94 L1172.09,586.84 L1173.85,589.75 L1175.59,592.68 L1177.3,595.63 L1178.99,598.59 L1180.65,601.57 L1182.29,604.57 L1183.9,607.59 L1185.49,610.62 L1187.05,613.67 L1188.59,616.74 L1190.1,619.84 L1191.58,622.94 L1193.04,626.07 L1194.47,629.22 L1195.87,632.39 L1197.25,635.58 L1198.61,638.79 L1199.94,642.01 L1201.26,645.24 L1202.56,648.49 L1203.85,651.75 L1205.13,655.01 L1206.41,658.27 L1207.69,661.53 L1208.97,664.8 L1210.25,668.05 L1211.54,671.31 L1212.84,674.55 L1214.16,677.78 L1215.49,681 L1216.84,684.19 L1218.22,687.38 L1219.62,690.53 L1221.06,693.67 L1222.53,696.78 L1224.03,699.85 L1225.58,702.9 L1227.17,705.91 L1228.8,708.89 L1230.48,711.83 L1232.22,714.72 L1234.01,717.57 L1235.87,720.37 L1237.78,723.13 L1239.76,725.83 L1241.81,728.48 L1243.92,731.07 L1246.11,733.61 L1248.37,736.09 L1250.69,738.5 L1253.08,740.86 L1255.53,743.16 L1258.04,745.41 L1260.61,747.59 L1263.23,749.71 L1265.91,751.76 L1268.64,753.76 L1271.42,755.69 L1274.24,757.57 L1277.12,759.37 L1280.04,761.12 L1283,762.8 L1286,764.41 L1289.04,765.96 L1292.11,767.44 L1295.22,768.86 L1298.36,770.21 L1301.53,771.49 L1304.74,772.7 L1307.96,773.84 L1311.21,774.92 L1314.49,775.93 L1317.78,776.86 L1321.09,777.73 L1324.42,778.52 L1327.77,779.24 L1331.12,779.9 L1334.49,780.48 L1337.87,781.01 L1341.26,781.47 L1344.67,781.88 L1348.08,782.23 L1351.5,782.53 L1354.93,782.79 L1358.37,783 L1361.81,783.17 L1365.26,783.3 L1368.72,783.4 L1372.18,783.47 L1375.64,783.51 L1379.11,783.53 L1382.58,783.52 L1386.05,783.5 L1389.52,783.46 L1392.99,783.41 L1396.47,783.36 L1399.94,783.29 L1403.41,783.23 L1406.87,783.17 L1410.34,783.11 L1413.8,783.06 L1417.25,783.02 L1420.7,782.99 L1424.15,782.99 L1427.58,783 L1431.01,783.04 L1434.44,783.09 L1437.86,783.17 L1441.27,783.26 L1444.68,783.36 L1448.08,783.47 L1451.49,783.6 L1454.89,783.73 L1458.28,783.87 L1461.68,784.01 L1465.08,784.15 L1468.48,784.29 L1471.88,784.43 L1475.28,784.56 L1478.68,784.69 L1482.09,784.8 L1485.5,784.91 L1488.91,785 L1492.33,785.07 L1495.76,785.13 L1499.2,785.17 L1502.64,785.18 L1506.09,785.17 L1509.54,785.13 L1513.01,785.07 L1516.49,784.97 L1519.98,784.84 L1523.48,784.68 L1526.8,784.48 L1526.8,1157.98 L1522.35,1157.5 L1519.25,1157.04 L1516.13,1156.61 L1512.98,1156.21 L1509.81,1155.84 L1506.62,1155.48 L1503.4,1155.15 L1500.16,1154.83 L1496.9,1154.54 L1493.63,1154.26 L1490.33,1153.99 L1487.02,1153.74 L1483.69,1153.5 L1480.34,1153.27 L1476.99,1153.05 L1473.61,1152.84 L1470.23,1152.63 L1466.83,1152.43 L1463.43,1152.22 L1460.01,1152.02 L1456.59,1151.82 L1453.16,1151.62 L1449.72,1151.41 L1446.28,1151.2 L1442.84,1150.98 L1439.39,1150.75 L1435.94,1150.52 L1432.48,1150.27 L1429.03,1150.01 L1425.58,1149.73 L1422.13,1149.44 L1418.68,1149.13 L1415.23,1148.8 L1411.79,1148.45 L1408.36,1148.07 L1404.93,1147.68 L1401.51,1147.26 L1398.1,1146.81 L1394.7,1146.33 L1391.3,1145.82 L1387.92,1145.28 L1384.56,1144.71 L1381.2,1144.1 L1377.86,1143.46 L1374.54,1142.78 L1371.23,1142.05 L1367.94,1141.29 L1364.67,1140.49 L1361.42,1139.64 L1358.19,1138.74 L1354.98,1137.8 L1351.79,1136.81 L1348.63,1135.77 L1345.49,1134.68 L1342.37,1133.53 L1339.28,1132.33 L1336.22,1131.08 L1333.19,1129.76 L1330.19,1128.38 L1327.22,1126.95 L1324.28,1125.45 L1321.37,1123.89 L1318.49,1122.27 L1315.64,1120.6 L1312.83,1118.86 L1310.04,1117.07 L1307.29,1115.23 L1304.57,1113.33 L1301.88,1111.38 L1299.23,1109.38 L1296.6,1107.34 L1294.01,1105.24 L1291.45,1103.09 L1288.92,1100.91 L1286.42,1098.67 L1283.96,1096.39 L1281.53,1094.08 L1279.13,1091.72 L1276.76,1089.32 L1274.43,1086.88 L1272.13,1084.41 L1269.86,1081.9 L1267.63,1079.36 L1265.43,1076.78 L1263.26,1074.18 L1261.12,1071.54 L1259.02,1068.87 L1256.95,1066.18 L1254.92,1063.46 L1252.92,1060.71 L1250.95,1057.94 L1249.01,1055.15 L1247.1,1052.33 L1245.22,1049.5 L1243.36,1046.66 L1241.52,1043.79 L1239.7,1040.92 L1237.91,1038.03 L1236.12,1035.14 L1234.35,1032.24 L1232.59,1029.33 L1230.84,1026.42 L1229.1,1023.51 L1227.37,1020.6 L1225.63,1017.69 L1223.9,1014.78 L1222.17,1011.87 L1220.44,1008.97 L1218.72,1006.07 L1217,1003.16 L1215.29,1000.26 L1213.58,997.36 L1211.88,994.45 L1210.18,991.54 L1208.49,988.63 L1206.81,985.71 L1205.13,982.8 L1203.46,979.87 L1201.81,976.94 L1200.16,974 L1198.52,971.06 L1196.88,968.11 L1195.26,965.16 L1193.64,962.2 L1192.02,959.24 L1190.4,956.28 L1188.79,953.32 L1187.17,950.36 L1185.56,947.39 L1183.93,944.43 L1182.31,941.47 L1180.68,938.51 L1179.04,935.56 L1177.39,932.61 L1175.73,929.66 L1174.06,926.72 L1172.38,923.79 L1170.68,920.87 L1168.97,917.95 L1167.24,915.04 L1165.49,912.14 L1163.72,909.26 L1161.93,906.38 L1160.12,903.52 L1158.29,900.67 L1156.43,897.83 L1154.54,895.01 L1152.62,892.2 L1150.68,889.41 L1148.7,886.64 L1146.7,883.88 L1144.66,881.15 L1142.59,878.44 L1140.49,875.75 L1138.35,873.09 L1136.18,870.46 L1133.98,867.86 L1131.75,865.29 L1129.49,862.76 L1127.19,860.26 L1124.86,857.8 L1122.49,855.38 L1120.09,853.01 L1117.66,850.68 L1115.19,848.39 L1112.69,846.16 L1110.15,843.97 L1107.58,841.84 L1104.98,839.76 L1102.33,837.74 L1099.66,835.78 L1096.94,833.87 L1094.2,832.03 L1091.41,830.26 L1088.59,828.55 L1085.73,826.91 L1082.84,825.34 L1079.91,823.84 L1076.94,822.42 L1073.93,821.07 L1070.89,819.8 L1067.82,818.6 L1064.71,817.47 L1061.57,816.41 L1058.4,815.41 L1055.2,814.47 L1051.97,813.6 L1048.72,812.78 L1045.45,812.01 L1042.15,811.3 L1038.84,810.63 L1035.5,810.01 L1032.15,809.43 L1028.78,808.89 L1025.4,808.4 L1022,807.93 L1018.6,807.5 L1015.18,807.1 L1011.76,806.73 L1008.33,806.38 L1004.89,806.06 L1001.46,805.75 L998.02,805.46 L994.58,805.19 L991.14,804.93 L987.7,804.67 L984.27,804.43 L980.85,804.18 L977.43,803.94 L974.03,803.7 L970.63,803.46 L967.24,803.21 L963.85,802.96 L960.48,802.72 L957.11,802.47 L953.75,802.22 L950.39,801.97 L947.04,801.72 L943.69,801.47 L940.35,801.22 L937.01,800.97 L933.67,800.72 L930.33,800.48 L926.99,800.23 L923.66,799.99 L920.32,799.74 L916.98,799.5 L913.64,799.26 L910.3,799.03 L906.96,798.79 L903.61,798.56 L900.26,798.33 L896.91,798.1 L893.55,797.88 L890.18,797.66 L886.81,797.44 L883.43,797.23 L880.05,797.02 L876.5,796.82 Z" fill="#00BA38" fill-opacity="0.2"/>
<path d="M876.5,555.68 L876.87,556.61 L880.61,557.58 L884.32,558.58 L888.01,559.62 L891.66,560.69 L895.3,561.78 L898.9,562.92 L902.49,564.08 L906.04,565.27 L909.57,566.5 L913.08,567.75 L916.56,569.04 L920.02,570.35 L923.45,571.7 L926.86,573.08 L930.25,574.48 L933.61,575.92 L936.95,577.38 L940.26,578.87 L943.56,580.39 L946.83,581.94 L950.07,583.51 L953.3,585.12 L956.5,586.75 L959.68,588.4 L962.85,590.09 L965.98,591.8 L969.1,593.53 L972.2,595.29 L975.27,597.08 L978.33,598.89 L981.36,600.73 L984.38,602.59 L987.38,604.48 L990.35,606.39 L993.31,608.32 L996.24,610.28 L999.16,612.26 L1002.06,614.26 L1004.94,616.29 L1007.8,618.33 L1010.65,620.4 L1013.47,622.5 L1016.28,624.61 L1019.07,626.74 L1021.84,628.9 L1024.6,631.08 L1027.34,633.27 L1030.06,635.49 L1032.77,637.73 L1035.46,639.98 L1038.13,642.26 L1040.79,644.55 L1043.43,646.87 L1046.06,649.2 L1048.67,651.55 L1051.26,653.92 L1053.85,656.3 L1056.41,658.7 L1058.97,661.12 L1061.51,663.56 L1064.03,666.01 L1066.54,668.48 L1069.04,670.97 L1071.52,673.47 L1073.99,675.98 L1076.45,678.51 L1078.9,681.06 L1081.33,683.62 L1083.75,686.19 L1086.16,688.78 L1088.56,691.38 L1090.94,694 L1093.32,696.63 L1095.68,699.27 L1098.03,701.92 L1100.37,704.59 L1102.71,707.27 L1105.03,709.96 L1107.34,712.66 L1109.64,715.37 L1111.93,718.09 L1114.21,720.83 L1116.48,723.57 L1118.75,726.33 L1121,729.09 L1123.25,731.86 L1125.48,734.65 L1127.71,737.44 L1129.93,740.24 L1132.15,743.04 L1134.35,745.86 L1136.55,748.68 L1138.74,751.52 L1140.93,754.35 L1143.11,757.2 L1145.28,760.05 L1147.44,762.91 L1149.6,765.78 L1151.75,768.65 L1153.9,771.52 L1156.04,774.4 L1158.18,777.29 L1160.31,780.18 L1162.44,783.08 L1164.56,785.97 L1166.68,788.88 L1168.8,791.78 L1170.91,794.69 L1173.01,797.61 L1175.12,800.52 L1177.22,803.44 L1179.31,806.36 L1181.41,809.28 L1183.5,812.21 L1185.59,815.13 L1187.67,818.06 L1189.76,820.99 L1191.84,823.91 L1193.92,826.84 L1196,829.77 L1198.08,832.7 L1200.16,835.62 L1202.24,838.55 L1204.32,841.47 L1206.4,844.39 L1208.48,847.3 L1210.57,850.21 L1212.66,853.12 L1214.75,856.03 L1216.85,858.92 L1218.95,861.82 L1221.06,864.7 L1223.17,867.58 L1225.29,870.45 L1227.42,873.32 L1229.55,876.17 L1231.7,879.02 L1233.85,881.85 L1236.01,884.68 L1238.18,887.49 L1240.37,890.3 L1242.56,893.09 L1244.77,895.87 L1246.99,898.64 L1249.22,901.39 L1251.46,904.13 L1253.72,906.86 L1256,909.57 L1258.29,912.27 L1260.59,914.95 L1262.91,917.61 L1265.25,920.26 L1267.6,922.89 L1269.97,925.5 L1272.36,928.1 L1274.76,930.68 L1277.19,933.24 L1279.62,935.78 L1282.08,938.3 L1284.55,940.81 L1287.04,943.29 L1289.55,945.76 L1292.08,948.2 L1294.62,950.63 L1297.18,953.03 L1299.76,955.42 L1302.36,957.78 L1304.98,960.12 L1307.62,962.44 L1310.27,964.74 L1312.95,967.01 L1315.65,969.26 L1318.36,971.49 L1321.09,973.7 L1323.85,975.88 L1326.62,978.04 L1329.42,980.17 L1332.23,982.28 L1335.07,984.37 L1337.92,986.43 L1340.8,988.46 L1343.69,990.47 L1346.61,992.46 L1349.55,994.42 L1352.5,996.35 L1355.47,998.26 L1358.46,1000.15 L1361.47,1002.01 L1364.5,1003.85 L1367.54,1005.67 L1370.6,1007.46 L1373.68,1009.23 L1376.78,1010.97 L1379.89,1012.69 L1383.02,1014.39 L1386.16,1016.06 L1389.32,1017.71 L1392.49,1019.33 L1395.68,1020.94 L1398.88,1022.52 L1402.1,1024.07 L1405.33,1025.61 L1408.57,1027.12 L1411.83,1028.61 L1415.1,1030.08 L1418.38,1031.52 L1421.68,1032.94 L1424.99,1034.34 L1428.31,1035.72 L1431.64,1037.07 L1434.98,1038.41 L1438.33,1039.72 L1441.7,1041.01 L1445.07,1042.28 L1448.45,1043.52 L1451.85,1044.75 L1455.25,1045.95 L1458.66,1047.14 L1462.08,1048.3 L1465.51,1049.44 L1468.95,1050.56 L1472.39,1051.66 L1475.85,1052.74 L1479.31,1053.79 L1482.77,1054.83 L1486.25,1055.85 L1489.73,1056.84 L1493.21,1057.82 L1496.7,1058.78 L1500.2,1059.71 L1503.7,1060.63 L1507.21,1061.52 L1510.72,1062.4 L1514.24,1063.26 L1517.76,1064.09 L1521.28,1064.91 L1524.81,1065.71 L1526.8,1066.49" fill="none" stroke="#00BA38" stroke-width="5.65"/>
<path d="M876.5,387.23 L880.59,388.4 L884.81,389.6 L889.04,390.84 L893.28,392.11 L897.53,393.41 L901.78,394.75 L906.03,396.12 L910.28,397.54 L914.53,398.99 L918.78,400.48 L923.01,402.01 L927.24,403.59 L931.47,405.21 L935.67,406.87 L939.87,408.57 L944.05,410.32 L948.21,412.12 L952.35,413.97 L956.47,415.86 L960.57,417.81 L964.64,419.81 L968.68,421.85 L972.69,423.95 L976.67,426.11 L980.62,428.32 L984.53,430.58 L988.41,432.9 L992.24,435.28 L996.03,437.72 L999.78,440.21 L1003.49,442.77 L1007.14,445.39 L1010.75,448.07 L1014.31,450.8 L1017.83,453.6 L1021.29,456.45 L1024.7,459.36 L1028.06,462.32 L1031.37,465.34 L1034.62,468.41 L1037.82,471.53 L1040.96,474.71 L1044.05,477.93 L1047.08,481.21 L1050.05,484.54 L1052.97,487.92 L1055.82,491.34 L1058.62,494.81 L1061.35,498.33 L1064.02,501.89 L1066.63,505.5 L1069.18,509.15 L1071.66,512.85 L1074.07,516.58 L1076.42,520.36 L1078.7,524.18 L1080.91,528.04 L1083.06,531.93 L1085.13,535.87 L1087.14,539.84 L1089.07,543.85 L1090.93,547.89 L1092.72,551.97 L1094.45,556.08 L1096.11,560.22 L1097.71,564.39 L1099.25,568.59 L1100.73,572.81 L1102.15,577.06 L1103.52,581.34 L1104.84,585.63 L1106.1,589.95 L1107.32,594.29 L1108.5,598.64 L1109.63,603.02 L1110.72,607.41 L1111.77,611.81 L1112.78,616.22 L1113.76,620.65 L1114.7,625.08 L1115.61,629.53 L1116.5,633.98 L1117.36,638.43 L1118.19,642.89 L1119,647.36 L1119.79,651.82 L1120.56,656.29 L1121.32,660.75 L1122.06,665.21 L1122.79,669.66 L1123.51,674.11 L1124.22,678.55 L1124.93,682.99 L1125.63,687.42 L1126.32,691.84 L1127,696.26 L1127.68,700.68 L1128.36,705.09 L1129.02,709.5 L1129.69,713.91 L1130.34,718.31 L1131,722.72 L1131.65,727.12 L1132.29,731.52 L1132.93,735.93 L1133.57,740.33 L1134.21,744.74 L1134.85,749.15 L1135.48,753.56 L1136.11,757.97 L1136.74,762.39 L1137.37,766.82 L1138,771.25 L1138.62,775.68 L1139.25,780.12 L1139.88,784.57 L1140.51,789.03 L1141.14,793.49 L1141.77,797.96 L1142.41,802.44 L1143.05,806.94 L1143.69,811.44 L1144.34,815.94 L1145,820.45 L1145.67,824.97 L1146.35,829.48 L1147.06,834 L1147.78,838.51 L1148.53,843.02 L1149.31,847.53 L1150.11,852.03 L1150.95,856.52 L1151.82,860.99 L1152.72,865.46 L1153.67,869.92 L1154.65,874.35 L1155.68,878.77 L1156.76,883.18 L1157.89,887.56 L1159.07,891.92 L1160.31,896.25 L1161.6,900.56 L1162.95,904.84 L1164.37,909.1 L1165.85,913.32 L1167.4,917.51 L1169.02,921.67 L1170.72,925.79 L1172.49,929.87 L1174.34,933.91 L1176.27,937.91 L1178.29,941.87 L1180.39,945.79 L1182.57,949.65 L1184.83,953.47 L1187.17,957.22 L1189.6,960.93 L1192.11,964.57 L1194.7,968.15 L1197.38,971.66 L1200.13,975.11 L1202.97,978.49 L1205.9,981.79 L1208.9,985.02 L1211.98,988.17 L1215.15,991.24 L1218.4,994.22 L1221.72,997.13 L1225.11,999.96 L1228.58,1002.7 L1232.11,1005.37 L1235.7,1007.96 L1239.36,1010.46 L1243.07,1012.89 L1246.83,1015.24 L1250.64,1017.52 L1254.51,1019.71 L1258.41,1021.83 L1262.36,1023.87 L1266.34,1025.83 L1270.37,1027.72 L1274.42,1029.53 L1278.51,1031.27 L1282.63,1032.94 L1286.79,1034.55 L1290.97,1036.08 L1295.18,1037.55 L1299.42,1038.96 L1303.69,1040.31 L1307.98,1041.6 L1312.29,1042.84 L1316.63,1044.01 L1320.99,1045.14 L1325.37,1046.21 L1329.77,1047.24 L1334.19,1048.22 L1338.62,1049.15 L1343.08,1050.04 L1347.54,1050.88 L1352.02,1051.69 L1356.52,1052.46 L1361.02,1053.19 L1365.53,1053.89 L1370.06,1054.56 L1374.59,1055.19 L1379.13,1055.8 L1383.67,1056.38 L1388.22,1056.94 L1392.77,1057.48 L1397.32,1057.99 L1401.88,1058.48 L1406.43,1058.96 L1410.98,1059.43 L1415.53,1059.88 L1420.08,1060.31 L1424.62,1060.74 L1429.15,1061.16 L1433.68,1061.58 L1438.2,1061.99 L1442.71,1062.4 L1447.21,1062.81 L1451.69,1063.23 L1456.17,1063.64 L1460.63,1064.06 L1465.07,1064.49 L1469.5,1064.93 L1473.91,1065.38 L1478.3,1065.85 L1482.67,1066.33 L1487.02,1066.83 L1491.35,1067.34 L1495.65,1067.88 L1499.93,1068.44 L1504.18,1069.02 L1508.41,1069.63 L1512.61,1070.27 L1516.78,1070.94 L1520.91,1071.65 L1526.8,1072.38 L1526.8,1155.66 L1522.76,1155.46 L1518.71,1155.26 L1514.65,1155.05 L1510.58,1154.84 L1506.52,1154.62 L1502.45,1154.4 L1498.38,1154.17 L1494.31,1153.94 L1490.24,1153.7 L1486.17,1153.45 L1482.09,1153.19 L1478.02,1152.92 L1473.95,1152.64 L1469.87,1152.35 L1465.8,1152.05 L1461.72,1151.74 L1457.65,1151.42 L1453.58,1151.08 L1449.51,1150.73 L1445.44,1150.36 L1441.38,1149.98 L1437.31,1149.59 L1433.25,1149.17 L1429.19,1148.75 L1425.13,1148.3 L1421.08,1147.83 L1417.03,1147.35 L1412.99,1146.84 L1408.94,1146.32 L1404.91,1145.78 L1400.87,1145.21 L1396.84,1144.62 L1392.82,1144.01 L1388.8,1143.38 L1384.79,1142.72 L1380.78,1142.03 L1376.78,1141.32 L1372.78,1140.59 L1368.8,1139.83 L1364.81,1139.04 L1360.84,1138.22 L1356.87,1137.38 L1352.91,1136.51 L1348.96,1135.6 L1345.02,1134.67 L1341.08,1133.7 L1337.16,1132.71 L1333.24,1131.68 L1329.33,1130.62 L1325.43,1129.52 L1321.54,1128.39 L1317.66,1127.23 L1313.79,1126.03 L1309.94,1124.79 L1306.09,1123.52 L1302.25,1122.2 L1298.42,1120.86 L1294.61,1119.47 L1290.81,1118.04 L1287.02,1116.57 L1283.24,1115.07 L1279.47,1113.52 L1275.72,1111.94 L1271.97,1110.31 L1268.24,1108.65 L1264.51,1106.96 L1260.8,1105.22 L1257.09,1103.45 L1253.4,1101.65 L1249.71,1099.81 L1246.03,1097.94 L1242.36,1096.03 L1238.69,1094.1 L1235.03,1092.13 L1231.38,1090.13 L1227.74,1088.09 L1224.12,1086.02 L1220.53,1083.91 L1216.96,1081.76 L1213.43,1079.56 L1209.94,1077.31 L1206.51,1075.01 L1203.13,1072.65 L1199.82,1070.22 L1196.58,1067.74 L1193.41,1065.19 L1190.33,1062.57 L1187.33,1059.87 L1184.44,1057.1 L1181.64,1054.24 L1178.95,1051.31 L1176.36,1048.3 L1173.86,1045.22 L1171.46,1042.07 L1169.15,1038.85 L1166.93,1035.57 L1164.8,1032.22 L1162.75,1028.81 L1160.78,1025.35 L1158.89,1021.84 L1157.07,1018.27 L1155.33,1014.66 L1153.66,1011 L1152.06,1007.3 L1150.53,1003.55 L1149.06,999.78 L1147.64,995.96 L1146.29,992.12 L1144.99,988.25 L1143.75,984.35 L1142.55,980.43 L1141.41,976.49 L1140.31,972.54 L1139.25,968.57 L1138.23,964.58 L1137.25,960.59 L1136.3,956.6 L1135.38,952.6 L1134.5,948.59 L1133.64,944.6 L1132.81,940.6 L1132,936.6 L1131.22,932.61 L1130.45,928.62 L1129.71,924.63 L1128.99,920.63 L1128.29,916.64 L1127.6,912.65 L1126.93,908.66 L1126.28,904.67 L1125.64,900.67 L1125.01,896.68 L1124.39,892.68 L1123.78,888.69 L1123.18,884.69 L1122.59,880.68 L1122,876.68 L1121.42,872.67 L1120.84,868.66 L1120.27,864.65 L1119.7,860.63 L1119.12,856.61 L1118.55,852.58 L1117.97,848.55 L1117.39,844.51 L1116.8,840.47 L1116.21,836.43 L1115.61,832.37 L1115,828.32 L1114.38,824.25 L1113.75,820.18 L1113.11,816.11 L1112.45,812.04 L1111.77,807.97 L1111.08,803.89 L1110.36,799.82 L1109.63,795.75 L1108.86,791.69 L1108.08,787.63 L1107.27,783.58 L1106.42,779.53 L1105.55,775.5 L1104.65,771.47 L1103.71,767.46 L1102.74,763.46 L1101.73,759.47 L1100.68,755.5 L1099.59,751.55 L1098.45,747.61 L1097.28,743.69 L1096.06,739.8 L1094.79,735.92 L1093.47,732.07 L1092.1,728.24 L1090.68,724.43 L1089.2,720.66 L1087.67,716.91 L1086.08,713.19 L1084.43,709.49 L1082.72,705.84 L1080.95,702.22 L1079.1,698.65 L1077.18,695.14 L1075.18,691.68 L1073.1,688.29 L1070.94,684.97 L1068.69,681.73 L1066.34,678.57 L1063.9,675.51 L1061.35,672.53 L1058.71,669.66 L1055.95,666.9 L1053.08,664.26 L1050.1,661.73 L1047.01,659.32 L1043.81,657.02 L1040.52,654.83 L1037.13,652.75 L1033.66,650.76 L1030.11,648.87 L1026.49,647.07 L1022.81,645.35 L1019.06,643.71 L1015.27,642.15 L1011.43,640.66 L1007.55,639.24 L1003.65,637.87 L999.71,636.56 L995.76,635.31 L991.79,634.1 L987.81,632.94 L983.82,631.82 L979.81,630.74 L975.79,629.69 L971.77,628.67 L967.74,627.69 L963.71,626.72 L959.67,625.78 L955.63,624.86 L951.6,623.95 L947.56,623.05 L943.54,622.16 L939.51,621.27 L935.5,620.39 L931.5,619.5 L927.5,618.61 L923.52,617.7 L919.56,616.79 L915.61,615.86 L911.68,614.91 L907.77,613.93 L903.89,612.94 L900.02,611.91 L896.19,610.85 L892.38,609.75 L888.59,608.61 L884.84,607.43 L881.12,606.21 L876.5,604.93 Z" fill="#000000" fill-opacity="0.15"/>
<g fill="#000" fill-opacity="0.2" stroke="#000" stroke-opacity="0.2" stroke-width="1.3"><circle cx="957.28" cy="219.69" r="2.85"/><circle cx="1011.19" cy="226.25" r="2.85"/><circle cx="1019.47" cy="198.59" r="2.85"/><circle cx="1028.06" cy="226.25" r="2.85"/><circle cx="1077.12" cy="199.53" r="2.85"/><circle cx="1095.88" cy="226.09" r="2.85"/><circle cx="1098.38" cy="200.31" r="2.85"/><circle cx="1119" cy="214.22" r="2.85"/><circle cx="1127.59" cy="235" r="2.85"/><circle cx="1139.78" cy="199.69" r="2.85"/><circle cx="1145.56" cy="210.31" r="2.85"/><circle cx="1159.94" cy="223.59" r="2.85"/><circle cx="1183.53" cy="204.84" r="2.85"/><circle cx="1186.97" cy="200.62" r="2.85"/><circle cx="1213.38" cy="200.62" r="2.85"/><circle cx="1276.34" cy="230.31" r="2.85"/><circle cx="1281.34" cy="232.34" r="2.85"/><circle cx="1285.56" cy="229.06" r="2.85"/><circle cx="981.03" cy="1171.41" r="2.85"/><circle cx="1029.94" cy="1180.62" r="2.85"/><circle cx="1048.69" cy="1177.5" r="2.85"/><circle cx="1054.16" cy="1147.81" r="2.85"/><circle cx="1065.56" cy="1174.06" r="2.85"/><circle cx="1069.47" cy="1147.97" r="2.85"/><circle cx="1074.47" cy="1150.31" r="2.85"/><circle cx="1104.94" cy="1153.44" r="2.85"/><circle cx="1156.97" cy="1151.09" r="2.85"/><circle cx="1163.53" cy="1163.44" r="2.85"/><circle cx="1178.38" cy="1167.34" r="2.85"/><circle cx="1177.59" cy="1180" r="2.85"/><circle cx="1181.03" cy="1152.5" r="2.85"/><circle cx="1220.88" cy="1156.09" r="2.85"/><circle cx="1215.72" cy="1177.19" r="2.85"/><circle cx="1235.25" cy="1182.66" r="2.85"/><circle cx="1286.03" cy="1160" r="2.85"/><circle cx="1273.53" cy="1179.53" r="2.85"/><circle cx="1298.53" cy="1164.22" r="2.85"/><circle cx="1301.66" cy="1173.75" r="2.85"/><circle cx="1315.41" cy="1178.44" r="2.85"/><circle cx="1374.31" cy="1177.97" r="2.85"/><circle cx="1387.59" cy="1174.06" r="2.85"/><circle cx="1436.81" cy="1154.22" r="2.85"/><circle cx="1263.38" cy="1178.75" r="2.85"/></g>
<g fill="#000" fill-opacity="0.75" stroke="#000" stroke-opacity="0.75" stroke-width="1.7"><circle cx="1064.5" cy="416.25" r="20.85"/><circle cx="1109" cy="406.25" r="11.35"/><circle cx="985.25" cy="516.25" r="20.85"/><circle cx="1004" cy="533" r="11.35"/><circle cx="1189" cy="596.25" r="11.35"/><circle cx="1280.75" cy="596.25" r="11.35"/><circle cx="999.75" cy="690.75" r="16.15"/><circle cx="1071" cy="734.25" r="16.15"/><circle cx="1119" cy="743.75" r="20.85"/><circle cx="1127.25" cy="820" r="16.15"/><circle cx="1157.25" cy="690.75" r="11.35"/><circle cx="1210.25" cy="906.25" r="16.15"/><circle cx="1173.5" cy="992.5" r="16.15"/><circle cx="1065" cy="1005" r="11.35"/><circle cx="1406" cy="1007" r="16.15"/><circle cx="1162.75" cy="1065.25" r="20.85"/><circle cx="1202" cy="1115.5" r="20.85"/><circle cx="1292.5" cy="1079" r="16.15"/><circle cx="1237.5" cy="1165.2" r="11.35"/><circle cx="1251.6" cy="1165.2" r="16.15"/><circle cx="1255.9" cy="1165.2" r="20.85"/><circle cx="1308.75" cy="1165.2" r="20.85"/><circle cx="1352.5" cy="1165.2" r="11.35"/><circle cx="1390.5" cy="1165.2" r="20.85"/></g>
<path d="M876.5,491.17 L881.14,492.31 L885.04,493.45 L888.97,494.58 L892.94,495.72 L896.94,496.86 L900.98,498.01 L905.03,499.16 L909.11,500.33 L913.21,501.51 L917.32,502.7 L921.45,503.92 L925.59,505.15 L929.73,506.41 L933.88,507.69 L938.04,509.01 L942.19,510.35 L946.34,511.73 L950.48,513.14 L954.61,514.59 L958.73,516.08 L962.83,517.61 L966.92,519.19 L970.98,520.81 L975.02,522.49 L979.03,524.21 L983.01,526 L986.96,527.84 L990.87,529.74 L994.75,531.7 L998.58,533.73 L1002.36,535.82 L1006.1,537.98 L1009.79,540.22 L1013.43,542.52 L1017.01,544.89 L1020.54,547.33 L1024.01,549.85 L1027.41,552.43 L1030.75,555.09 L1034.03,557.82 L1037.23,560.62 L1040.36,563.49 L1043.42,566.44 L1046.41,569.47 L1049.31,572.57 L1052.14,575.74 L1054.88,578.99 L1057.54,582.31 L1060.12,585.69 L1062.63,589.14 L1065.06,592.64 L1067.42,596.2 L1069.71,599.81 L1071.93,603.47 L1074.09,607.16 L1076.18,610.9 L1078.2,614.66 L1080.17,618.46 L1082.07,622.28 L1083.92,626.12 L1085.71,629.98 L1087.45,633.86 L1089.14,637.76 L1090.77,641.67 L1092.35,645.6 L1093.89,649.55 L1095.37,653.51 L1096.81,657.49 L1098.2,661.48 L1099.55,665.49 L1100.85,669.52 L1102.12,673.55 L1103.34,677.61 L1104.52,681.67 L1105.67,685.75 L1106.78,689.84 L1107.85,693.94 L1108.89,698.06 L1109.9,702.19 L1110.87,706.33 L1111.81,710.48 L1112.73,714.64 L1113.62,718.81 L1114.47,723 L1115.31,727.19 L1116.12,731.39 L1116.91,735.6 L1117.67,739.82 L1118.42,744.05 L1119.14,748.29 L1119.85,752.53 L1120.54,756.79 L1121.22,761.05 L1121.88,765.31 L1122.53,769.58 L1123.17,773.86 L1123.8,778.15 L1124.42,782.44 L1125.03,786.73 L1125.63,791.03 L1126.23,795.34 L1126.83,799.65 L1127.42,803.96 L1128.01,808.27 L1128.6,812.59 L1129.19,816.92 L1129.79,821.24 L1130.38,825.57 L1130.99,829.89 L1131.59,834.22 L1132.21,838.55 L1132.83,842.88 L1133.47,847.21 L1134.11,851.55 L1134.77,855.88 L1135.44,860.21 L1136.13,864.54 L1136.83,868.86 L1137.55,873.19 L1138.29,877.51 L1139.05,881.84 L1139.83,886.15 L1140.63,890.46 L1141.47,894.76 L1142.33,899.05 L1143.22,903.33 L1144.15,907.6 L1145.11,911.85 L1146.11,916.09 L1147.15,920.3 L1148.23,924.5 L1149.35,928.68 L1150.53,932.83 L1151.75,936.95 L1153.02,941.05 L1154.34,945.12 L1155.72,949.16 L1157.16,953.17 L1158.65,957.14 L1160.21,961.08 L1161.83,964.98 L1163.51,968.84 L1165.27,972.67 L1167.09,976.45 L1168.98,980.18 L1170.95,983.87 L1173,987.51 L1175.13,991.11 L1177.33,994.65 L1179.62,998.14 L1182,1001.57 L1184.45,1004.95 L1186.99,1008.28 L1189.61,1011.55 L1192.3,1014.77 L1195.06,1017.93 L1197.9,1021.04 L1200.81,1024.09 L1203.79,1027.08 L1206.83,1030.02 L1209.94,1032.91 L1213.11,1035.74 L1216.34,1038.51 L1219.62,1041.22 L1222.96,1043.88 L1226.36,1046.49 L1229.8,1049.03 L1233.29,1051.52 L1236.84,1053.95 L1240.42,1056.33 L1244.05,1058.64 L1247.72,1060.9 L1251.42,1063.11 L1255.16,1065.25 L1258.94,1067.34 L1262.75,1069.36 L1266.59,1071.33 L1270.45,1073.24 L1274.35,1075.1 L1278.26,1076.89 L1282.2,1078.62 L1286.16,1080.3 L1290.14,1081.93 L1294.14,1083.5 L1298.16,1085.01 L1302.2,1086.48 L1306.25,1087.9 L1310.33,1089.26 L1314.42,1090.59 L1318.53,1091.86 L1322.65,1093.09 L1326.79,1094.28 L1330.95,1095.42 L1335.11,1096.52 L1339.29,1097.59 L1343.49,1098.61 L1347.69,1099.6 L1351.9,1100.56 L1356.13,1101.48 L1360.36,1102.37 L1364.61,1103.22 L1368.86,1104.05 L1373.12,1104.85 L1377.39,1105.62 L1381.66,1106.36 L1385.94,1107.08 L1390.22,1107.78 L1394.51,1108.45 L1398.8,1109.1 L1403.09,1109.74 L1407.39,1110.35 L1411.68,1110.95 L1415.98,1111.53 L1420.28,1112.1 L1424.58,1112.66 L1428.87,1113.2 L1433.17,1113.74 L1437.46,1114.26 L1441.75,1114.78 L1446.03,1115.29 L1450.31,1115.8 L1454.59,1116.3 L1458.86,1116.8 L1463.12,1117.3 L1467.38,1117.8 L1471.62,1118.31 L1475.86,1118.81 L1480.09,1119.32 L1484.31,1119.84 L1488.52,1120.36 L1492.72,1120.89 L1496.9,1121.43 L1501.08,1121.98 L1505.24,1122.55 L1509.38,1123.13 L1513.51,1123.72 L1517.63,1124.33 L1521.73,1124.95 L1526.8,1125.6" fill="none" stroke="#000" stroke-width="5.5" stroke-dasharray="22.75 22.75"/>
<text x="862" y="1263.8" font-size="24" fill="#4D4D4D" text-anchor="middle" font-weight="normal" textLength="44" lengthAdjust="spacingAndGlyphs">-2.5</text>
<text x="1020.7" y="1263.8" font-size="24" fill="#4D4D4D" text-anchor="middle" font-weight="normal" textLength="35.7" lengthAdjust="spacingAndGlyphs">0.0</text>
<text x="1180.7" y="1263.8" font-size="24" fill="#4D4D4D" text-anchor="middle" font-weight="normal" textLength="35.7" lengthAdjust="spacingAndGlyphs">2.5</text>
<text x="1340.7" y="1263.8" font-size="24" fill="#4D4D4D" text-anchor="middle" font-weight="normal" textLength="35.7" lengthAdjust="spacingAndGlyphs">5.0</text>
<text x="1500.7" y="1263.8" font-size="24" fill="#4D4D4D" text-anchor="middle" font-weight="normal" textLength="35.7" lengthAdjust="spacingAndGlyphs">7.5</text>
<text x="1930.85" y="134.8" font-size="24.5" fill="#1A1A1A" text-anchor="middle" font-weight="normal" textLength="149.4" lengthAdjust="spacingAndGlyphs">Young adults</text>
<path d="M1591.5,149 V1233 M1751.5,149 V1233 M1911.5,149 V1233 M2071.5,149 V1233 M2231.5,149 V1233 M1574,216.9 H2289.4 M1574,453.9 H2289.4 M1574,691.2 H2289.4 M1574,928.3 H2289.4 M1574,1165.4 H2289.4" stroke="#EBEBEB" stroke-width="2.6" fill="none"/>
<path d="M1606.5,337.14 L1612.03,337.3 L1617.17,337.46 L1622.31,337.61 L1627.44,337.76 L1632.58,337.91 L1637.72,338.06 L1642.86,338.22 L1648.02,338.39 L1653.18,338.57 L1658.35,338.76 L1663.53,338.97 L1668.74,339.19 L1673.95,339.43 L1679.19,339.69 L1684.46,339.97 L1689.74,340.28 L1695.05,340.62 L1700.37,341 L1705.69,341.44 L1711.01,341.96 L1716.32,342.55 L1721.61,343.24 L1726.87,344.04 L1732.09,344.96 L1737.26,346.01 L1742.38,347.21 L1747.44,348.57 L1752.43,350.1 L1757.34,351.81 L1762.17,353.72 L1766.9,355.83 L1771.52,358.14 L1776.04,360.65 L1780.44,363.34 L1784.71,366.22 L1788.85,369.27 L1792.84,372.5 L1796.69,375.88 L1800.37,379.43 L1803.89,383.13 L1807.24,386.97 L1810.41,390.95 L1813.39,395.07 L1816.17,399.31 L1818.75,403.68 L1821.11,408.16 L1823.27,412.75 L1825.24,417.44 L1827.03,422.22 L1828.66,427.08 L1830.14,432.02 L1831.48,437.03 L1832.7,442.1 L1833.81,447.22 L1834.83,452.38 L1835.77,457.58 L1836.64,462.8 L1837.46,468.04 L1838.24,473.3 L1838.99,478.56 L1839.73,483.81 L1840.46,489.06 L1841.17,494.31 L1841.87,499.56 L1842.55,504.8 L1843.22,510.04 L1843.88,515.28 L1844.53,520.51 L1845.16,525.74 L1845.79,530.97 L1846.4,536.2 L1847.01,541.43 L1847.6,546.65 L1848.19,551.87 L1848.77,557.09 L1849.34,562.3 L1849.9,567.51 L1850.45,572.73 L1851,577.94 L1851.54,583.14 L1852.07,588.35 L1852.6,593.55 L1853.13,598.76 L1853.64,603.96 L1854.16,609.15 L1854.67,614.35 L1855.18,619.55 L1855.68,624.74 L1856.18,629.94 L1856.68,635.13 L1857.18,640.32 L1857.67,645.51 L1858.17,650.7 L1858.66,655.88 L1859.16,661.07 L1859.65,666.26 L1860.15,671.44 L1860.65,676.63 L1861.14,681.81 L1861.65,686.99 L1862.15,692.17 L1862.66,697.36 L1863.17,702.54 L1863.68,707.72 L1864.2,712.9 L1864.72,718.08 L1865.25,723.26 L1865.78,728.44 L1866.32,733.62 L1866.87,738.8 L1867.43,743.98 L1867.99,749.16 L1868.55,754.34 L1869.13,759.52 L1869.72,764.7 L1870.31,769.88 L1870.92,775.06 L1871.53,780.24 L1872.16,785.43 L1872.79,790.61 L1873.44,795.79 L1874.1,800.98 L1874.76,806.16 L1875.44,811.35 L1876.13,816.53 L1876.83,821.72 L1877.54,826.9 L1878.25,832.09 L1878.98,837.27 L1879.72,842.46 L1880.46,847.64 L1881.21,852.82 L1881.98,858 L1882.75,863.18 L1883.53,868.36 L1884.31,873.54 L1885.11,878.72 L1885.91,883.89 L1886.72,889.07 L1887.53,894.24 L1888.35,899.41 L1889.18,904.58 L1890.02,909.74 L1890.86,914.9 L1891.71,920.07 L1892.56,925.22 L1893.42,930.38 L1894.28,935.53 L1895.15,940.68 L1896.03,945.83 L1896.91,950.98 L1897.8,956.12 L1898.71,961.26 L1899.65,966.4 L1900.61,971.53 L1901.6,976.67 L1902.62,981.8 L1903.69,986.94 L1904.79,992.07 L1905.95,997.2 L1907.16,1002.33 L1908.43,1007.47 L1909.77,1012.6 L1911.17,1017.74 L1912.64,1022.88 L1914.19,1028.01 L1915.84,1033.12 L1917.58,1038.18 L1919.44,1043.17 L1921.42,1048.07 L1923.55,1052.85 L1925.82,1057.5 L1928.26,1061.98 L1930.87,1066.29 L1933.67,1070.39 L1936.67,1074.26 L1939.88,1077.89 L1943.31,1081.24 L1946.98,1084.3 L1950.9,1087.04 L1955.05,1089.47 L1959.41,1091.61 L1963.97,1093.46 L1968.7,1095.04 L1973.59,1096.37 L1978.6,1097.46 L1983.73,1098.32 L1988.95,1098.98 L1994.24,1099.45 L1999.6,1099.76 L2004.99,1099.95 L2010.41,1100.03 L2015.84,1100.03 L2021.27,1099.98 L2026.67,1099.91 L2032.04,1099.82 L2037.39,1099.74 L2042.71,1099.65 L2048,1099.55 L2053.28,1099.46 L2058.53,1099.36 L2063.77,1099.27 L2068.99,1099.19 L2074.2,1099.1 L2079.4,1099.03 L2084.6,1098.97 L2089.79,1098.91 L2094.98,1098.87 L2100.17,1098.84 L2105.36,1098.83 L2110.56,1098.83 L2115.75,1098.85 L2120.95,1098.87 L2126.16,1098.91 L2131.36,1098.95 L2136.57,1099.01 L2141.79,1099.06 L2147,1099.13 L2152.22,1099.19 L2157.43,1099.26 L2162.65,1099.33 L2167.88,1099.4 L2173.1,1099.47 L2178.33,1099.53 L2183.56,1099.59 L2188.79,1099.64 L2194.02,1099.68 L2199.25,1099.71 L2204.48,1099.74 L2209.72,1099.75 L2214.95,1099.75 L2220.19,1099.73 L2225.43,1099.7 L2230.67,1099.65 L2235.9,1099.58 L2241.14,1099.49 L2246.38,1099.38 L2251.62,1099.24 L2256.8,1099.08 L2256.8,1164.51 L2252.62,1164.45 L2247.87,1164.4 L2243.14,1164.35 L2238.41,1164.3 L2233.7,1164.26 L2228.99,1164.23 L2224.3,1164.2 L2219.61,1164.17 L2214.93,1164.15 L2210.26,1164.13 L2205.6,1164.12 L2200.94,1164.11 L2196.3,1164.1 L2191.65,1164.1 L2187.02,1164.1 L2182.39,1164.1 L2177.76,1164.1 L2173.14,1164.11 L2168.53,1164.12 L2163.92,1164.13 L2159.31,1164.14 L2154.7,1164.15 L2150.1,1164.16 L2145.51,1164.18 L2140.91,1164.19 L2136.32,1164.21 L2131.72,1164.22 L2127.13,1164.23 L2122.54,1164.25 L2117.95,1164.26 L2113.36,1164.27 L2108.77,1164.28 L2104.18,1164.29 L2099.59,1164.3 L2094.99,1164.31 L2090.4,1164.31 L2085.8,1164.31 L2081.2,1164.31 L2076.6,1164.3 L2071.99,1164.29 L2067.38,1164.28 L2062.76,1164.27 L2058.14,1164.25 L2053.52,1164.23 L2048.89,1164.2 L2044.25,1164.17 L2039.61,1164.13 L2034.96,1164.09 L2030.31,1164.04 L2025.65,1163.99 L2020.98,1163.93 L2016.3,1163.87 L2011.61,1163.8 L2006.92,1163.72 L2002.21,1163.64 L1997.5,1163.55 L1992.78,1163.45 L1988.04,1163.34 L1983.3,1163.23 L1978.54,1163.11 L1973.78,1162.98 L1969.01,1162.81 L1964.26,1162.61 L1959.52,1162.34 L1954.81,1161.99 L1950.13,1161.55 L1945.5,1160.99 L1940.93,1160.31 L1936.41,1159.49 L1931.97,1158.5 L1927.61,1157.34 L1923.34,1155.98 L1919.16,1154.41 L1915.1,1152.61 L1911.15,1150.58 L1907.34,1148.31 L1903.69,1145.8 L1900.21,1143.07 L1896.93,1140.11 L1893.86,1136.93 L1891.03,1133.53 L1888.45,1129.92 L1886.12,1126.12 L1884.02,1122.14 L1882.11,1118.02 L1880.38,1113.78 L1878.8,1109.44 L1877.35,1105.04 L1876,1100.59 L1874.73,1096.12 L1873.52,1091.64 L1872.39,1087.14 L1871.32,1082.62 L1870.32,1078.1 L1869.37,1073.56 L1868.49,1069.01 L1867.65,1064.44 L1866.87,1059.87 L1866.14,1055.29 L1865.45,1050.7 L1864.81,1046.09 L1864.21,1041.49 L1863.64,1036.87 L1863.11,1032.25 L1862.61,1027.62 L1862.14,1022.99 L1861.7,1018.35 L1861.27,1013.71 L1860.87,1009.06 L1860.49,1004.42 L1860.12,999.77 L1859.76,995.12 L1859.41,990.47 L1859.07,985.82 L1858.73,981.17 L1858.39,976.53 L1858.05,971.89 L1857.71,967.25 L1857.35,962.61 L1856.99,957.98 L1856.61,953.35 L1856.22,948.73 L1855.81,944.11 L1855.4,939.5 L1854.97,934.89 L1854.54,930.28 L1854.09,925.68 L1853.63,921.08 L1853.15,916.49 L1852.67,911.9 L1852.18,907.31 L1851.67,902.73 L1851.16,898.14 L1850.63,893.57 L1850.09,888.99 L1849.55,884.41 L1848.99,879.84 L1848.42,875.27 L1847.84,870.71 L1847.26,866.14 L1846.66,861.57 L1846.05,857.01 L1845.44,852.45 L1844.81,847.89 L1844.18,843.33 L1843.54,838.77 L1842.89,834.21 L1842.23,829.65 L1841.56,825.1 L1840.88,820.54 L1840.2,815.98 L1839.5,811.42 L1838.8,806.86 L1838.09,802.3 L1837.38,797.75 L1836.65,793.18 L1835.92,788.62 L1835.18,784.06 L1834.43,779.5 L1833.68,774.93 L1832.92,770.36 L1832.15,765.8 L1831.38,761.22 L1830.6,756.65 L1829.81,752.08 L1829.02,747.5 L1828.22,742.92 L1827.42,738.33 L1826.61,733.75 L1825.79,729.16 L1824.97,724.56 L1824.14,719.97 L1823.31,715.37 L1822.47,710.76 L1821.63,706.16 L1820.79,701.54 L1819.93,696.93 L1819.08,692.31 L1818.22,687.68 L1817.35,683.05 L1816.47,678.43 L1815.57,673.81 L1814.62,669.2 L1813.62,664.62 L1812.56,660.07 L1811.41,655.56 L1810.18,651.1 L1808.84,646.69 L1807.38,642.34 L1805.79,638.06 L1804.06,633.86 L1802.17,629.74 L1800.11,625.72 L1797.87,621.79 L1795.45,617.97 L1792.85,614.28 L1790.08,610.71 L1787.15,607.28 L1784.05,604 L1780.81,600.89 L1777.42,597.94 L1773.89,595.18 L1770.23,592.61 L1766.45,590.24 L1762.54,588.08 L1758.52,586.14 L1754.4,584.44 L1750.17,582.98 L1745.85,581.78 L1741.45,580.82 L1736.96,580.09 L1732.41,579.57 L1727.8,579.23 L1723.13,579.05 L1718.43,579.01 L1713.68,579.08 L1708.91,579.25 L1704.13,579.49 L1699.33,579.78 L1694.54,580.1 L1689.75,580.42 L1684.98,580.72 L1680.24,580.99 L1675.53,581.19 L1670.86,581.32 L1666.23,581.37 L1661.62,581.37 L1657.04,581.31 L1652.48,581.2 L1647.92,581.06 L1643.38,580.89 L1638.84,580.7 L1634.29,580.5 L1629.73,580.29 L1625.16,580.08 L1620.57,579.89 L1615.95,579.71 L1611.3,579.57 L1606.5,579.46 Z" fill="#619CFF" fill-opacity="0.2"/>
<path d="M1606.5,449.72 L1610.92,449.91 L1616.87,450.05 L1622.51,450.15 L1627.85,450.2 L1632.96,450.23 L1637.85,450.22 L1642.58,450.19 L1647.18,450.15 L1651.68,450.08 L1656.14,450.01 L1660.58,449.94 L1665.05,449.87 L1669.59,449.8 L1674.23,449.74 L1679.01,449.7 L1683.96,449.68 L1689.08,449.7 L1694.33,449.76 L1699.7,449.88 L1705.14,450.07 L1710.64,450.35 L1716.17,450.73 L1721.71,451.22 L1727.21,451.84 L1732.67,452.6 L1738.04,453.51 L1743.31,454.58 L1748.45,455.83 L1753.43,457.28 L1758.22,458.93 L1762.8,460.79 L1767.16,462.87 L1771.32,465.16 L1775.27,467.66 L1779.03,470.34 L1782.6,473.21 L1785.99,476.26 L1789.2,479.48 L1792.24,482.86 L1795.12,486.39 L1797.84,490.08 L1800.41,493.9 L1802.84,497.86 L1805.13,501.94 L1807.29,506.14 L1809.32,510.45 L1811.24,514.86 L1813.05,519.37 L1814.75,523.96 L1816.36,528.64 L1817.87,533.38 L1819.3,538.19 L1820.65,543.06 L1821.93,547.97 L1823.15,552.93 L1824.3,557.92 L1825.41,562.94 L1826.47,567.98 L1827.49,573.02 L1828.47,578.08 L1829.43,583.12 L1830.37,588.16 L1831.29,593.2 L1832.18,598.23 L1833.05,603.24 L1833.9,608.26 L1834.74,613.27 L1835.55,618.27 L1836.34,623.26 L1837.12,628.25 L1837.87,633.23 L1838.61,638.21 L1839.33,643.19 L1840.04,648.15 L1840.73,653.12 L1841.4,658.08 L1842.06,663.03 L1842.71,667.99 L1843.34,672.93 L1843.95,677.88 L1844.56,682.82 L1845.15,687.76 L1845.73,692.69 L1846.29,697.62 L1846.85,702.55 L1847.39,707.48 L1847.93,712.41 L1848.45,717.33 L1848.97,722.25 L1849.48,727.18 L1849.98,732.1 L1850.47,737.01 L1850.96,741.93 L1851.44,746.85 L1851.91,751.77 L1852.38,756.69 L1852.84,761.6 L1853.3,766.52 L1853.75,771.44 L1854.2,776.36 L1854.65,781.28 L1855.09,786.2 L1855.53,791.13 L1855.97,796.05 L1856.41,800.98 L1856.85,805.91 L1857.29,810.84 L1857.73,815.77 L1858.17,820.71 L1858.61,825.65 L1859.05,830.59 L1859.5,835.54 L1859.95,840.49 L1860.4,845.44 L1860.86,850.4 L1861.32,855.36 L1861.78,860.33 L1862.25,865.3 L1862.73,870.28 L1863.21,875.26 L1863.71,880.25 L1864.2,885.24 L1864.71,890.23 L1865.22,895.23 L1865.75,900.23 L1866.28,905.24 L1866.83,910.24 L1867.38,915.25 L1867.95,920.25 L1868.53,925.25 L1869.12,930.25 L1869.73,935.25 L1870.35,940.25 L1870.98,945.24 L1871.63,950.23 L1872.3,955.21 L1872.98,960.18 L1873.68,965.15 L1874.4,970.11 L1875.13,975.07 L1875.88,980.01 L1876.66,984.94 L1877.45,989.87 L1878.26,994.78 L1879.1,999.68 L1879.95,1004.57 L1880.83,1009.44 L1881.74,1014.3 L1882.66,1019.14 L1883.61,1023.97 L1884.58,1028.79 L1885.59,1033.59 L1886.64,1038.37 L1887.73,1043.13 L1888.89,1047.88 L1890.11,1052.62 L1891.41,1057.34 L1892.79,1062.05 L1894.27,1066.74 L1895.85,1071.41 L1897.55,1076.08 L1899.36,1080.73 L1901.31,1085.37 L1903.39,1089.99 L1905.63,1094.6 L1908.02,1099.2 L1910.58,1103.74 L1913.33,1108.17 L1916.28,1112.4 L1919.45,1116.38 L1922.86,1120.04 L1926.52,1123.3 L1930.45,1126.12 L1934.63,1128.48 L1939.02,1130.44 L1943.6,1132.07 L1948.32,1133.42 L1953.13,1134.55 L1958.02,1135.52 L1962.93,1136.39 L1967.84,1137.19 L1972.77,1137.92 L1977.7,1138.59 L1982.64,1139.19 L1987.58,1139.74 L1992.53,1140.22 L1997.49,1140.66 L2002.45,1141.04 L2007.41,1141.37 L2012.38,1141.66 L2017.36,1141.91 L2022.33,1142.12 L2027.31,1142.28 L2032.3,1142.42 L2037.29,1142.52 L2042.28,1142.6 L2047.27,1142.65 L2052.26,1142.68 L2057.26,1142.68 L2062.26,1142.67 L2067.26,1142.64 L2072.25,1142.61 L2077.25,1142.56 L2082.25,1142.51 L2087.25,1142.45 L2092.25,1142.4 L2097.25,1142.34 L2102.24,1142.29 L2107.23,1142.25 L2112.23,1142.22 L2117.22,1142.2 L2122.2,1142.19 L2127.19,1142.2 L2132.18,1142.21 L2137.16,1142.23 L2142.14,1142.25 L2147.12,1142.29 L2152.1,1142.32 L2157.08,1142.36 L2162.06,1142.41 L2167.04,1142.45 L2172.02,1142.49 L2177,1142.54 L2181.98,1142.58 L2186.96,1142.62 L2191.94,1142.65 L2196.92,1142.68 L2201.9,1142.7 L2206.89,1142.71 L2211.88,1142.71 L2216.86,1142.71 L2221.85,1142.69 L2226.85,1142.66 L2231.84,1142.62 L2236.84,1142.56 L2241.84,1142.49 L2246.84,1142.4 L2251.85,1142.3 L2256.8,1142.17" fill="none" stroke="#619CFF" stroke-width="5.65"/>
<path d="M1606.5,387.23 L1610.59,388.4 L1614.81,389.6 L1619.04,390.84 L1623.28,392.11 L1627.53,393.41 L1631.78,394.75 L1636.03,396.12 L1640.28,397.54 L1644.53,398.99 L1648.78,400.48 L1653.01,402.01 L1657.24,403.59 L1661.47,405.21 L1665.67,406.87 L1669.87,408.57 L1674.05,410.32 L1678.21,412.12 L1682.35,413.97 L1686.47,415.86 L1690.57,417.81 L1694.64,419.81 L1698.68,421.85 L1702.69,423.95 L1706.67,426.11 L1710.62,428.32 L1714.53,430.58 L1718.41,432.9 L1722.24,435.28 L1726.03,437.72 L1729.78,440.21 L1733.49,442.77 L1737.14,445.39 L1740.75,448.07 L1744.31,450.8 L1747.83,453.6 L1751.29,456.45 L1754.7,459.36 L1758.06,462.32 L1761.37,465.34 L1764.62,468.41 L1767.82,471.53 L1770.96,474.71 L1774.05,477.93 L1777.08,481.21 L1780.05,484.54 L1782.97,487.92 L1785.82,491.34 L1788.62,494.81 L1791.35,498.33 L1794.02,501.89 L1796.63,505.5 L1799.18,509.15 L1801.66,512.85 L1804.07,516.58 L1806.42,520.36 L1808.7,524.18 L1810.91,528.04 L1813.06,531.93 L1815.13,535.87 L1817.14,539.84 L1819.07,543.85 L1820.93,547.89 L1822.72,551.97 L1824.45,556.08 L1826.11,560.22 L1827.71,564.39 L1829.25,568.59 L1830.73,572.81 L1832.15,577.06 L1833.52,581.34 L1834.84,585.63 L1836.1,589.95 L1837.32,594.29 L1838.5,598.64 L1839.63,603.02 L1840.72,607.41 L1841.77,611.81 L1842.78,616.22 L1843.76,620.65 L1844.7,625.08 L1845.61,629.53 L1846.5,633.98 L1847.36,638.43 L1848.19,642.89 L1849,647.36 L1849.79,651.82 L1850.56,656.29 L1851.32,660.75 L1852.06,665.21 L1852.79,669.66 L1853.51,674.11 L1854.22,678.55 L1854.93,682.99 L1855.63,687.42 L1856.32,691.84 L1857,696.26 L1857.68,700.68 L1858.36,705.09 L1859.02,709.5 L1859.69,713.91 L1860.34,718.31 L1861,722.72 L1861.65,727.12 L1862.29,731.52 L1862.93,735.93 L1863.57,740.33 L1864.21,744.74 L1864.85,749.15 L1865.48,753.56 L1866.11,757.97 L1866.74,762.39 L1867.37,766.82 L1868,771.25 L1868.62,775.68 L1869.25,780.12 L1869.88,784.57 L1870.51,789.03 L1871.14,793.49 L1871.77,797.96 L1872.41,802.44 L1873.05,806.94 L1873.69,811.44 L1874.34,815.94 L1875,820.45 L1875.67,824.97 L1876.35,829.48 L1877.06,834 L1877.78,838.51 L1878.53,843.02 L1879.31,847.53 L1880.11,852.03 L1880.95,856.52 L1881.82,860.99 L1882.72,865.46 L1883.67,869.92 L1884.65,874.35 L1885.68,878.77 L1886.76,883.18 L1887.89,887.56 L1889.07,891.92 L1890.31,896.25 L1891.6,900.56 L1892.95,904.84 L1894.37,909.1 L1895.85,913.32 L1897.4,917.51 L1899.02,921.67 L1900.72,925.79 L1902.49,929.87 L1904.34,933.91 L1906.27,937.91 L1908.29,941.87 L1910.39,945.79 L1912.57,949.65 L1914.83,953.47 L1917.17,957.22 L1919.6,960.93 L1922.11,964.57 L1924.7,968.15 L1927.38,971.66 L1930.13,975.11 L1932.97,978.49 L1935.9,981.79 L1938.9,985.02 L1941.98,988.17 L1945.15,991.24 L1948.4,994.22 L1951.72,997.13 L1955.11,999.96 L1958.58,1002.7 L1962.11,1005.37 L1965.7,1007.96 L1969.36,1010.46 L1973.07,1012.89 L1976.83,1015.24 L1980.64,1017.52 L1984.51,1019.71 L1988.41,1021.83 L1992.36,1023.87 L1996.34,1025.83 L2000.37,1027.72 L2004.42,1029.53 L2008.51,1031.27 L2012.63,1032.94 L2016.79,1034.55 L2020.97,1036.08 L2025.18,1037.55 L2029.42,1038.96 L2033.69,1040.31 L2037.98,1041.6 L2042.29,1042.84 L2046.63,1044.01 L2050.99,1045.14 L2055.37,1046.21 L2059.77,1047.24 L2064.19,1048.22 L2068.62,1049.15 L2073.08,1050.04 L2077.54,1050.88 L2082.02,1051.69 L2086.52,1052.46 L2091.02,1053.19 L2095.53,1053.89 L2100.06,1054.56 L2104.59,1055.19 L2109.13,1055.8 L2113.67,1056.38 L2118.22,1056.94 L2122.77,1057.48 L2127.32,1057.99 L2131.88,1058.48 L2136.43,1058.96 L2140.98,1059.43 L2145.53,1059.88 L2150.08,1060.31 L2154.62,1060.74 L2159.15,1061.16 L2163.68,1061.58 L2168.2,1061.99 L2172.71,1062.4 L2177.21,1062.81 L2181.69,1063.23 L2186.17,1063.64 L2190.63,1064.06 L2195.07,1064.49 L2199.5,1064.93 L2203.91,1065.38 L2208.3,1065.85 L2212.67,1066.33 L2217.02,1066.83 L2221.35,1067.34 L2225.65,1067.88 L2229.93,1068.44 L2234.18,1069.02 L2238.41,1069.63 L2242.61,1070.27 L2246.78,1070.94 L2250.91,1071.65 L2256.8,1072.38 L2256.8,1155.66 L2252.76,1155.46 L2248.71,1155.26 L2244.65,1155.05 L2240.58,1154.84 L2236.52,1154.62 L2232.45,1154.4 L2228.38,1154.17 L2224.31,1153.94 L2220.24,1153.7 L2216.17,1153.45 L2212.09,1153.19 L2208.02,1152.92 L2203.95,1152.64 L2199.87,1152.35 L2195.8,1152.05 L2191.72,1151.74 L2187.65,1151.42 L2183.58,1151.08 L2179.51,1150.73 L2175.44,1150.36 L2171.38,1149.98 L2167.31,1149.59 L2163.25,1149.17 L2159.19,1148.75 L2155.13,1148.3 L2151.08,1147.83 L2147.03,1147.35 L2142.99,1146.84 L2138.94,1146.32 L2134.91,1145.78 L2130.87,1145.21 L2126.84,1144.62 L2122.82,1144.01 L2118.8,1143.38 L2114.79,1142.72 L2110.78,1142.03 L2106.78,1141.32 L2102.78,1140.59 L2098.8,1139.83 L2094.81,1139.04 L2090.84,1138.22 L2086.87,1137.38 L2082.91,1136.51 L2078.96,1135.6 L2075.02,1134.67 L2071.08,1133.7 L2067.16,1132.71 L2063.24,1131.68 L2059.33,1130.62 L2055.43,1129.52 L2051.54,1128.39 L2047.66,1127.23 L2043.79,1126.03 L2039.94,1124.79 L2036.09,1123.52 L2032.25,1122.2 L2028.42,1120.86 L2024.61,1119.47 L2020.81,1118.04 L2017.02,1116.57 L2013.24,1115.07 L2009.47,1113.52 L2005.72,1111.94 L2001.97,1110.31 L1998.24,1108.65 L1994.51,1106.96 L1990.8,1105.22 L1987.09,1103.45 L1983.4,1101.65 L1979.71,1099.81 L1976.03,1097.94 L1972.36,1096.03 L1968.69,1094.1 L1965.03,1092.13 L1961.38,1090.13 L1957.74,1088.09 L1954.12,1086.02 L1950.53,1083.91 L1946.96,1081.76 L1943.43,1079.56 L1939.94,1077.31 L1936.51,1075.01 L1933.13,1072.65 L1929.82,1070.22 L1926.58,1067.74 L1923.41,1065.19 L1920.33,1062.57 L1917.33,1059.87 L1914.44,1057.1 L1911.64,1054.24 L1908.95,1051.31 L1906.36,1048.3 L1903.86,1045.22 L1901.46,1042.07 L1899.15,1038.85 L1896.93,1035.57 L1894.8,1032.22 L1892.75,1028.81 L1890.78,1025.35 L1888.89,1021.84 L1887.07,1018.27 L1885.33,1014.66 L1883.66,1011 L1882.06,1007.3 L1880.53,1003.55 L1879.06,999.78 L1877.64,995.96 L1876.29,992.12 L1874.99,988.25 L1873.75,984.35 L1872.55,980.43 L1871.41,976.49 L1870.31,972.54 L1869.25,968.57 L1868.23,964.58 L1867.25,960.59 L1866.3,956.6 L1865.38,952.6 L1864.5,948.59 L1863.64,944.6 L1862.81,940.6 L1862,936.6 L1861.22,932.61 L1860.45,928.62 L1859.71,924.63 L1858.99,920.63 L1858.29,916.64 L1857.6,912.65 L1856.93,908.66 L1856.28,904.67 L1855.64,900.67 L1855.01,896.68 L1854.39,892.68 L1853.78,888.69 L1853.18,884.69 L1852.59,880.68 L1852,876.68 L1851.42,872.67 L1850.84,868.66 L1850.27,864.65 L1849.7,860.63 L1849.12,856.61 L1848.55,852.58 L1847.97,848.55 L1847.39,844.51 L1846.8,840.47 L1846.21,836.43 L1845.61,832.37 L1845,828.32 L1844.38,824.25 L1843.75,820.18 L1843.11,816.11 L1842.45,812.04 L1841.77,807.97 L1841.08,803.89 L1840.36,799.82 L1839.63,795.75 L1838.86,791.69 L1838.08,787.63 L1837.27,783.58 L1836.42,779.53 L1835.55,775.5 L1834.65,771.47 L1833.71,767.46 L1832.74,763.46 L1831.73,759.47 L1830.68,755.5 L1829.59,751.55 L1828.45,747.61 L1827.28,743.69 L1826.06,739.8 L1824.79,735.92 L1823.47,732.07 L1822.1,728.24 L1820.68,724.43 L1819.2,720.66 L1817.67,716.91 L1816.08,713.19 L1814.43,709.49 L1812.72,705.84 L1810.95,702.22 L1809.1,698.65 L1807.18,695.14 L1805.18,691.68 L1803.1,688.29 L1800.94,684.97 L1798.69,681.73 L1796.34,678.57 L1793.9,675.51 L1791.35,672.53 L1788.71,669.66 L1785.95,666.9 L1783.08,664.26 L1780.1,661.73 L1777.01,659.32 L1773.81,657.02 L1770.52,654.83 L1767.13,652.75 L1763.66,650.76 L1760.11,648.87 L1756.49,647.07 L1752.81,645.35 L1749.06,643.71 L1745.27,642.15 L1741.43,640.66 L1737.55,639.24 L1733.65,637.87 L1729.71,636.56 L1725.76,635.31 L1721.79,634.1 L1717.81,632.94 L1713.82,631.82 L1709.81,630.74 L1705.79,629.69 L1701.77,628.67 L1697.74,627.69 L1693.71,626.72 L1689.67,625.78 L1685.63,624.86 L1681.6,623.95 L1677.56,623.05 L1673.54,622.16 L1669.51,621.27 L1665.5,620.39 L1661.5,619.5 L1657.5,618.61 L1653.52,617.7 L1649.56,616.79 L1645.61,615.86 L1641.68,614.91 L1637.77,613.93 L1633.89,612.94 L1630.02,611.91 L1626.19,610.85 L1622.38,609.75 L1618.59,608.61 L1614.84,607.43 L1611.12,606.21 L1606.5,604.93 Z" fill="#000000" fill-opacity="0.15"/>
<g fill="#000" fill-opacity="0.2" stroke="#000" stroke-opacity="0.2" stroke-width="1.3"><circle cx="1622.91" cy="235.31" r="2.85"/><circle cx="1646.19" cy="213.44" r="2.85"/><circle cx="1691.66" cy="233.44" r="2.85"/><circle cx="1696.19" cy="207.97" r="2.85"/><circle cx="1726.66" cy="209.53" r="2.85"/><circle cx="1728.69" cy="208.44" r="2.85"/><circle cx="1728.22" cy="222.81" r="2.85"/><circle cx="1733.69" cy="211.25" r="2.85"/><circle cx="1738.38" cy="204.53" r="2.85"/><circle cx="1747.12" cy="220.94" r="2.85"/><circle cx="1748.53" cy="206.09" r="2.85"/><circle cx="1760.72" cy="215.78" r="2.85"/><circle cx="1763.84" cy="199.84" r="2.85"/><circle cx="1764.31" cy="221.72" r="2.85"/><circle cx="1767.28" cy="206.88" r="2.85"/><circle cx="1770.09" cy="201.09" r="2.85"/><circle cx="1772.12" cy="203.44" r="2.85"/><circle cx="1773.22" cy="204.53" r="2.85"/><circle cx="1785.41" cy="229.53" r="2.85"/><circle cx="1794" cy="234.69" r="2.85"/><circle cx="1800.56" cy="200.16" r="2.85"/><circle cx="1801.66" cy="199.38" r="2.85"/><circle cx="1807.59" cy="207.97" r="2.85"/><circle cx="1812.59" cy="223.28" r="2.85"/><circle cx="1815.72" cy="235.31" r="2.85"/><circle cx="1817.44" cy="204.53" r="2.85"/><circle cx="1820.09" cy="216.25" r="2.85"/><circle cx="1825.56" cy="220.94" r="2.85"/><circle cx="1826.34" cy="203.75" r="2.85"/><circle cx="1826.81" cy="224.84" r="2.85"/><circle cx="1829.47" cy="212.81" r="2.85"/><circle cx="1841.5" cy="206.09" r="2.85"/><circle cx="1842.75" cy="200.62" r="2.85"/><circle cx="1847.75" cy="224.84" r="2.85"/><circle cx="1850.88" cy="207.97" r="2.85"/><circle cx="1854.78" cy="231.09" r="2.85"/><circle cx="1875.88" cy="207.19" r="2.85"/><circle cx="1878.69" cy="229.84" r="2.85"/><circle cx="1949.16" cy="217.81" r="2.85"/><circle cx="1655.56" cy="1159.22" r="2.85"/><circle cx="1691.19" cy="1184.22" r="2.85"/><circle cx="1720.88" cy="1184.22" r="2.85"/><circle cx="1725.56" cy="1176.41" r="2.85"/><circle cx="1727.91" cy="1157.19" r="2.85"/><circle cx="1739.31" cy="1154.22" r="2.85"/><circle cx="1779.16" cy="1179.06" r="2.85"/><circle cx="1779.47" cy="1158.44" r="2.85"/><circle cx="1794.78" cy="1163.44" r="2.85"/><circle cx="1811.81" cy="1169.38" r="2.85"/><circle cx="1835.25" cy="1174.84" r="2.85"/><circle cx="1843.53" cy="1178.28" r="2.85"/><circle cx="1850.56" cy="1146.25" r="2.85"/><circle cx="1852.12" cy="1172.5" r="2.85"/><circle cx="1856.81" cy="1174.84" r="2.85"/><circle cx="1857.12" cy="1168.12" r="2.85"/><circle cx="1858.38" cy="1159.22" r="2.85"/><circle cx="1864.16" cy="1169.69" r="2.85"/><circle cx="1869.31" cy="1170.62" r="2.85"/><circle cx="1869.78" cy="1169.06" r="2.85"/><circle cx="1879.47" cy="1164.22" r="2.85"/><circle cx="1881.03" cy="1164.22" r="2.85"/><circle cx="1885.72" cy="1165.94" r="2.85"/><circle cx="1888.06" cy="1175.94" r="2.85"/><circle cx="1888.06" cy="1156.09" r="2.85"/><circle cx="1889.62" cy="1147.81" r="2.85"/><circle cx="1888.84" cy="1162.34" r="2.85"/><circle cx="1893.53" cy="1162.34" r="2.85"/><circle cx="1896.66" cy="1146.25" r="2.85"/><circle cx="1899.47" cy="1169.69" r="2.85"/><circle cx="1901.03" cy="1149.38" r="2.85"/><circle cx="1903.69" cy="1177.97" r="2.85"/><circle cx="1906.03" cy="1170.94" r="2.85"/><circle cx="1906.81" cy="1164.69" r="2.85"/><circle cx="1907.59" cy="1161.56" r="2.85"/><circle cx="1908.38" cy="1177.97" r="2.85"/><circle cx="1911.97" cy="1155.78" r="2.85"/><circle cx="1920.09" cy="1163.91" r="2.85"/><circle cx="1922.12" cy="1155.31" r="2.85"/><circle cx="1923.22" cy="1178.44" r="2.85"/><circle cx="1926.34" cy="1148.28" r="2.85"/><circle cx="1926.81" cy="1171.41" r="2.85"/><circle cx="1926.34" cy="1183.12" r="2.85"/><circle cx="1930.25" cy="1159.22" r="2.85"/><circle cx="1932.59" cy="1181.09" r="2.85"/><circle cx="1937.91" cy="1182.66" r="2.85"/><circle cx="1941.5" cy="1162.34" r="2.85"/><circle cx="1940.25" cy="1148.28" r="2.85"/><circle cx="1943.69" cy="1148.28" r="2.85"/><circle cx="1945.72" cy="1174.38" r="2.85"/><circle cx="1951.5" cy="1148.28" r="2.85"/><circle cx="1951.19" cy="1163.91" r="2.85"/><circle cx="1962.91" cy="1177.97" r="2.85"/><circle cx="2005.09" cy="1184.22" r="2.85"/><circle cx="1998.06" cy="1184.22" r="2.85"/><circle cx="2009.78" cy="1174.84" r="2.85"/><circle cx="2015.25" cy="1173.28" r="2.85"/><circle cx="2014" cy="1154.53" r="2.85"/><circle cx="2014.47" cy="1163.91" r="2.85"/><circle cx="2019.94" cy="1145.94" r="2.85"/><circle cx="2020.72" cy="1148.75" r="2.85"/><circle cx="2026.19" cy="1163.12" r="2.85"/><circle cx="2028.53" cy="1156.88" r="2.85"/><circle cx="2037.91" cy="1164.38" r="2.85"/><circle cx="2037.12" cy="1172.5" r="2.85"/><circle cx="2040.25" cy="1174.84" r="2.85"/><circle cx="2055.09" cy="1167.03" r="2.85"/><circle cx="2056.66" cy="1150.62" r="2.85"/><circle cx="2066.03" cy="1160" r="2.85"/><circle cx="2066.5" cy="1173.28" r="2.85"/><circle cx="2067.59" cy="1181.88" r="2.85"/><circle cx="2079.31" cy="1160.78" r="2.85"/><circle cx="2083.22" cy="1171.25" r="2.85"/><circle cx="2087.12" cy="1176.41" r="2.85"/><circle cx="2091.81" cy="1170.16" r="2.85"/><circle cx="2096.19" cy="1151.72" r="2.85"/><circle cx="2101.97" cy="1164.69" r="2.85"/><circle cx="2105.09" cy="1180.31" r="2.85"/><circle cx="2109" cy="1154.53" r="2.85"/><circle cx="2110.56" cy="1155.31" r="2.85"/><circle cx="2122.28" cy="1167.03" r="2.85"/><circle cx="2123.06" cy="1172.97" r="2.85"/><circle cx="2134" cy="1181.56" r="2.85"/><circle cx="2143.69" cy="1181.09" r="2.85"/><circle cx="2160.56" cy="1146.25" r="2.85"/><circle cx="2169.94" cy="1169.38" r="2.85"/><circle cx="2177.44" cy="1176.72" r="2.85"/><circle cx="2203.06" cy="1154.53" r="2.85"/></g>
<g fill="#000" fill-opacity="0.75" stroke="#000" stroke-opacity="0.75" stroke-width="1.7"><circle cx="1794.5" cy="416.25" r="20.85"/><circle cx="1839" cy="406.25" r="11.35"/><circle cx="1715.25" cy="516.25" r="20.85"/><circle cx="1734" cy="533" r="11.35"/><circle cx="1919" cy="596.25" r="11.35"/><circle cx="2010.75" cy="596.25" r="11.35"/><circle cx="1729.75" cy="690.75" r="16.15"/><circle cx="1801" cy="734.25" r="16.15"/><circle cx="1849" cy="743.75" r="20.85"/><circle cx="1857.25" cy="820" r="16.15"/><circle cx="1887.25" cy="690.75" r="11.35"/><circle cx="1940.25" cy="906.25" r="16.15"/><circle cx="1903.5" cy="992.5" r="16.15"/><circle cx="1795" cy="1005" r="11.35"/><circle cx="2136" cy="1007" r="16.15"/><circle cx="1892.75" cy="1065.25" r="20.85"/><circle cx="1932" cy="1115.5" r="20.85"/><circle cx="2022.5" cy="1079" r="16.15"/><circle cx="1967.5" cy="1165.2" r="11.35"/><circle cx="1981.6" cy="1165.2" r="16.15"/><circle cx="1985.9" cy="1165.2" r="20.85"/><circle cx="2038.75" cy="1165.2" r="20.85"/><circle cx="2082.5" cy="1165.2" r="11.35"/><circle cx="2120.5" cy="1165.2" r="20.85"/></g>
<path d="M1606.5,491.17 L1611.14,492.31 L1615.04,493.45 L1618.97,494.58 L1622.94,495.72 L1626.94,496.86 L1630.98,498.01 L1635.03,499.16 L1639.11,500.33 L1643.21,501.51 L1647.32,502.7 L1651.45,503.92 L1655.59,505.15 L1659.73,506.41 L1663.88,507.69 L1668.04,509.01 L1672.19,510.35 L1676.34,511.73 L1680.48,513.14 L1684.61,514.59 L1688.73,516.08 L1692.83,517.61 L1696.92,519.19 L1700.98,520.81 L1705.02,522.49 L1709.03,524.21 L1713.01,526 L1716.96,527.84 L1720.87,529.74 L1724.75,531.7 L1728.58,533.73 L1732.36,535.82 L1736.1,537.98 L1739.79,540.22 L1743.43,542.52 L1747.01,544.89 L1750.54,547.33 L1754.01,549.85 L1757.41,552.43 L1760.75,555.09 L1764.03,557.82 L1767.23,560.62 L1770.36,563.49 L1773.42,566.44 L1776.41,569.47 L1779.31,572.57 L1782.14,575.74 L1784.88,578.99 L1787.54,582.31 L1790.12,585.69 L1792.63,589.14 L1795.06,592.64 L1797.42,596.2 L1799.71,599.81 L1801.93,603.47 L1804.09,607.16 L1806.18,610.9 L1808.2,614.66 L1810.17,618.46 L1812.07,622.28 L1813.92,626.12 L1815.71,629.98 L1817.45,633.86 L1819.14,637.76 L1820.77,641.67 L1822.35,645.6 L1823.89,649.55 L1825.37,653.51 L1826.81,657.49 L1828.2,661.48 L1829.55,665.49 L1830.85,669.52 L1832.12,673.55 L1833.34,677.61 L1834.52,681.67 L1835.67,685.75 L1836.78,689.84 L1837.85,693.94 L1838.89,698.06 L1839.9,702.19 L1840.87,706.33 L1841.81,710.48 L1842.73,714.64 L1843.62,718.81 L1844.47,723 L1845.31,727.19 L1846.12,731.39 L1846.91,735.6 L1847.67,739.82 L1848.42,744.05 L1849.14,748.29 L1849.85,752.53 L1850.54,756.79 L1851.22,761.05 L1851.88,765.31 L1852.53,769.58 L1853.17,773.86 L1853.8,778.15 L1854.42,782.44 L1855.03,786.73 L1855.63,791.03 L1856.23,795.34 L1856.83,799.65 L1857.42,803.96 L1858.01,808.27 L1858.6,812.59 L1859.19,816.92 L1859.79,821.24 L1860.38,825.57 L1860.99,829.89 L1861.59,834.22 L1862.21,838.55 L1862.83,842.88 L1863.47,847.21 L1864.11,851.55 L1864.77,855.88 L1865.44,860.21 L1866.13,864.54 L1866.83,868.86 L1867.55,873.19 L1868.29,877.51 L1869.05,881.84 L1869.83,886.15 L1870.63,890.46 L1871.47,894.76 L1872.33,899.05 L1873.22,903.33 L1874.15,907.6 L1875.11,911.85 L1876.11,916.09 L1877.15,920.3 L1878.23,924.5 L1879.35,928.68 L1880.53,932.83 L1881.75,936.95 L1883.02,941.05 L1884.34,945.12 L1885.72,949.16 L1887.16,953.17 L1888.65,957.14 L1890.21,961.08 L1891.83,964.98 L1893.51,968.84 L1895.27,972.67 L1897.09,976.45 L1898.98,980.18 L1900.95,983.87 L1903,987.51 L1905.13,991.11 L1907.33,994.65 L1909.62,998.14 L1912,1001.57 L1914.45,1004.95 L1916.99,1008.28 L1919.61,1011.55 L1922.3,1014.77 L1925.06,1017.93 L1927.9,1021.04 L1930.81,1024.09 L1933.79,1027.08 L1936.83,1030.02 L1939.94,1032.91 L1943.11,1035.74 L1946.34,1038.51 L1949.62,1041.22 L1952.96,1043.88 L1956.36,1046.49 L1959.8,1049.03 L1963.29,1051.52 L1966.84,1053.95 L1970.42,1056.33 L1974.05,1058.64 L1977.72,1060.9 L1981.42,1063.11 L1985.16,1065.25 L1988.94,1067.34 L1992.75,1069.36 L1996.59,1071.33 L2000.45,1073.24 L2004.35,1075.1 L2008.26,1076.89 L2012.2,1078.62 L2016.16,1080.3 L2020.14,1081.93 L2024.14,1083.5 L2028.16,1085.01 L2032.2,1086.48 L2036.25,1087.9 L2040.33,1089.26 L2044.42,1090.59 L2048.53,1091.86 L2052.65,1093.09 L2056.79,1094.28 L2060.95,1095.42 L2065.11,1096.52 L2069.29,1097.59 L2073.49,1098.61 L2077.69,1099.6 L2081.9,1100.56 L2086.13,1101.48 L2090.36,1102.37 L2094.61,1103.22 L2098.86,1104.05 L2103.12,1104.85 L2107.39,1105.62 L2111.66,1106.36 L2115.94,1107.08 L2120.22,1107.78 L2124.51,1108.45 L2128.8,1109.1 L2133.09,1109.74 L2137.39,1110.35 L2141.68,1110.95 L2145.98,1111.53 L2150.28,1112.1 L2154.58,1112.66 L2158.87,1113.2 L2163.17,1113.74 L2167.46,1114.26 L2171.75,1114.78 L2176.03,1115.29 L2180.31,1115.8 L2184.59,1116.3 L2188.86,1116.8 L2193.12,1117.3 L2197.38,1117.8 L2201.62,1118.31 L2205.86,1118.81 L2210.09,1119.32 L2214.31,1119.84 L2218.52,1120.36 L2222.72,1120.89 L2226.9,1121.43 L2231.08,1121.98 L2235.24,1122.55 L2239.38,1123.13 L2243.51,1123.72 L2247.63,1124.33 L2251.73,1124.95 L2256.8,1125.6" fill="none" stroke="#000" stroke-width="5.5" stroke-dasharray="22.75 22.75"/>
<text x="1592" y="1263.8" font-size="24" fill="#4D4D4D" text-anchor="middle" font-weight="normal" textLength="44" lengthAdjust="spacingAndGlyphs">-2.5</text>
<text x="1750.7" y="1263.8" font-size="24" fill="#4D4D4D" text-anchor="middle" font-weight="normal" textLength="35.7" lengthAdjust="spacingAndGlyphs">0.0</text>
<text x="1910.7" y="1263.8" font-size="24" fill="#4D4D4D" text-anchor="middle" font-weight="normal" textLength="35.7" lengthAdjust="spacingAndGlyphs">2.5</text>
<text x="2070.7" y="1263.8" font-size="24" fill="#4D4D4D" text-anchor="middle" font-weight="normal" textLength="35.7" lengthAdjust="spacingAndGlyphs">5.0</text>
<text x="2230.7" y="1263.8" font-size="24" fill="#4D4D4D" text-anchor="middle" font-weight="normal" textLength="35.7" lengthAdjust="spacingAndGlyphs">7.5</text>
<text x="100" y="225.3" font-size="24" fill="#4D4D4D" text-anchor="end" font-weight="normal" textLength="50.6" lengthAdjust="spacingAndGlyphs">1.00</text>
<text x="100" y="462.3" font-size="24" fill="#4D4D4D" text-anchor="end" font-weight="normal" textLength="50.6" lengthAdjust="spacingAndGlyphs">0.75</text>
<text x="100" y="699.6" font-size="24" fill="#4D4D4D" text-anchor="end" font-weight="normal" textLength="50.6" lengthAdjust="spacingAndGlyphs">0.50</text>
<text x="100" y="936.7" font-size="24" fill="#4D4D4D" text-anchor="end" font-weight="normal" textLength="50.6" lengthAdjust="spacingAndGlyphs">0.25</text>
<text x="100" y="1173.8" font-size="24" fill="#4D4D4D" text-anchor="end" font-weight="normal" textLength="50.6" lengthAdjust="spacingAndGlyphs">0.00</text>
<text x="1201.2" y="1296.9" font-size="31" fill="#000" text-anchor="middle" font-weight="normal" textLength="366.4" lengthAdjust="spacingAndGlyphs">Antibody Titre (log scale)</text>
<g transform="translate(36.8,690.3) rotate(-90)"><text x="0" y="0" font-size="31" fill="#000" text-anchor="middle" font-weight="normal" textLength="331.9" lengthAdjust="spacingAndGlyphs">Probability of Infection</text></g>
<text x="609.3" y="1381.4" font-size="29" fill="#000" text-anchor="start" font-weight="normal" textLength="74.7" lengthAdjust="spacingAndGlyphs">Bin n</text>
<circle cx="722.4" cy="1370.3" r="11.05" fill="#000" fill-opacity="0.75" stroke="#000" stroke-opacity="0.75" stroke-width="1.7"/>
<text x="761.6" y="1378.8" font-size="24" fill="#000" text-anchor="start" font-weight="normal" textLength="11.1" lengthAdjust="spacingAndGlyphs">5</text>
<circle cx="812.9" cy="1370.3" r="15.05" fill="#000" fill-opacity="0.75" stroke="#000" stroke-opacity="0.75" stroke-width="1.7"/>
<text x="850.3" y="1378.8" font-size="24" fill="#000" text-anchor="start" font-weight="normal" textLength="29" lengthAdjust="spacingAndGlyphs">10</text>
<circle cx="918.3" cy="1370.3" r="18.45" fill="#000" fill-opacity="0.75" stroke="#000" stroke-opacity="0.75" stroke-width="1.7"/>
<text x="957" y="1378.8" font-size="24" fill="#000" text-anchor="start" font-weight="normal" textLength="28" lengthAdjust="spacingAndGlyphs">15</text>
<text x="1045.9" y="1378.8" font-size="31" fill="#000" text-anchor="start" font-weight="normal" textLength="82.9" lengthAdjust="spacingAndGlyphs">group</text>
<rect x="1146.2" y="1349.2" width="42.4" height="41.6" fill="#F8766D" fill-opacity="0.2"/>
<path d="M1149.2,1369.9 H1186.1" stroke="#F8766D" stroke-width="5.6"/>
<text x="1204.4" y="1378.1" font-size="24" fill="#000" text-anchor="start" font-weight="normal" textLength="145.4" lengthAdjust="spacingAndGlyphs">Middle-aged</text>
<rect x="1366.1" y="1349.2" width="42.4" height="41.6" fill="#00BA38" fill-opacity="0.2"/>
<path d="M1369.1,1369.9 H1406" stroke="#00BA38" stroke-width="5.6"/>
<text x="1425" y="1378.1" font-size="24" fill="#000" text-anchor="start" font-weight="normal" textLength="142.6" lengthAdjust="spacingAndGlyphs">Older adults</text>
<rect x="1585.1" y="1349.2" width="42.4" height="41.6" fill="#619CFF" fill-opacity="0.2"/>
<path d="M1588.1,1369.9 H1625" stroke="#619CFF" stroke-width="5.6"/>
<text x="1643.4" y="1378.1" font-size="24" fill="#000" text-anchor="start" font-weight="normal" textLength="149.8" lengthAdjust="spacingAndGlyphs">Young adults</text>
</svg></body></html>
